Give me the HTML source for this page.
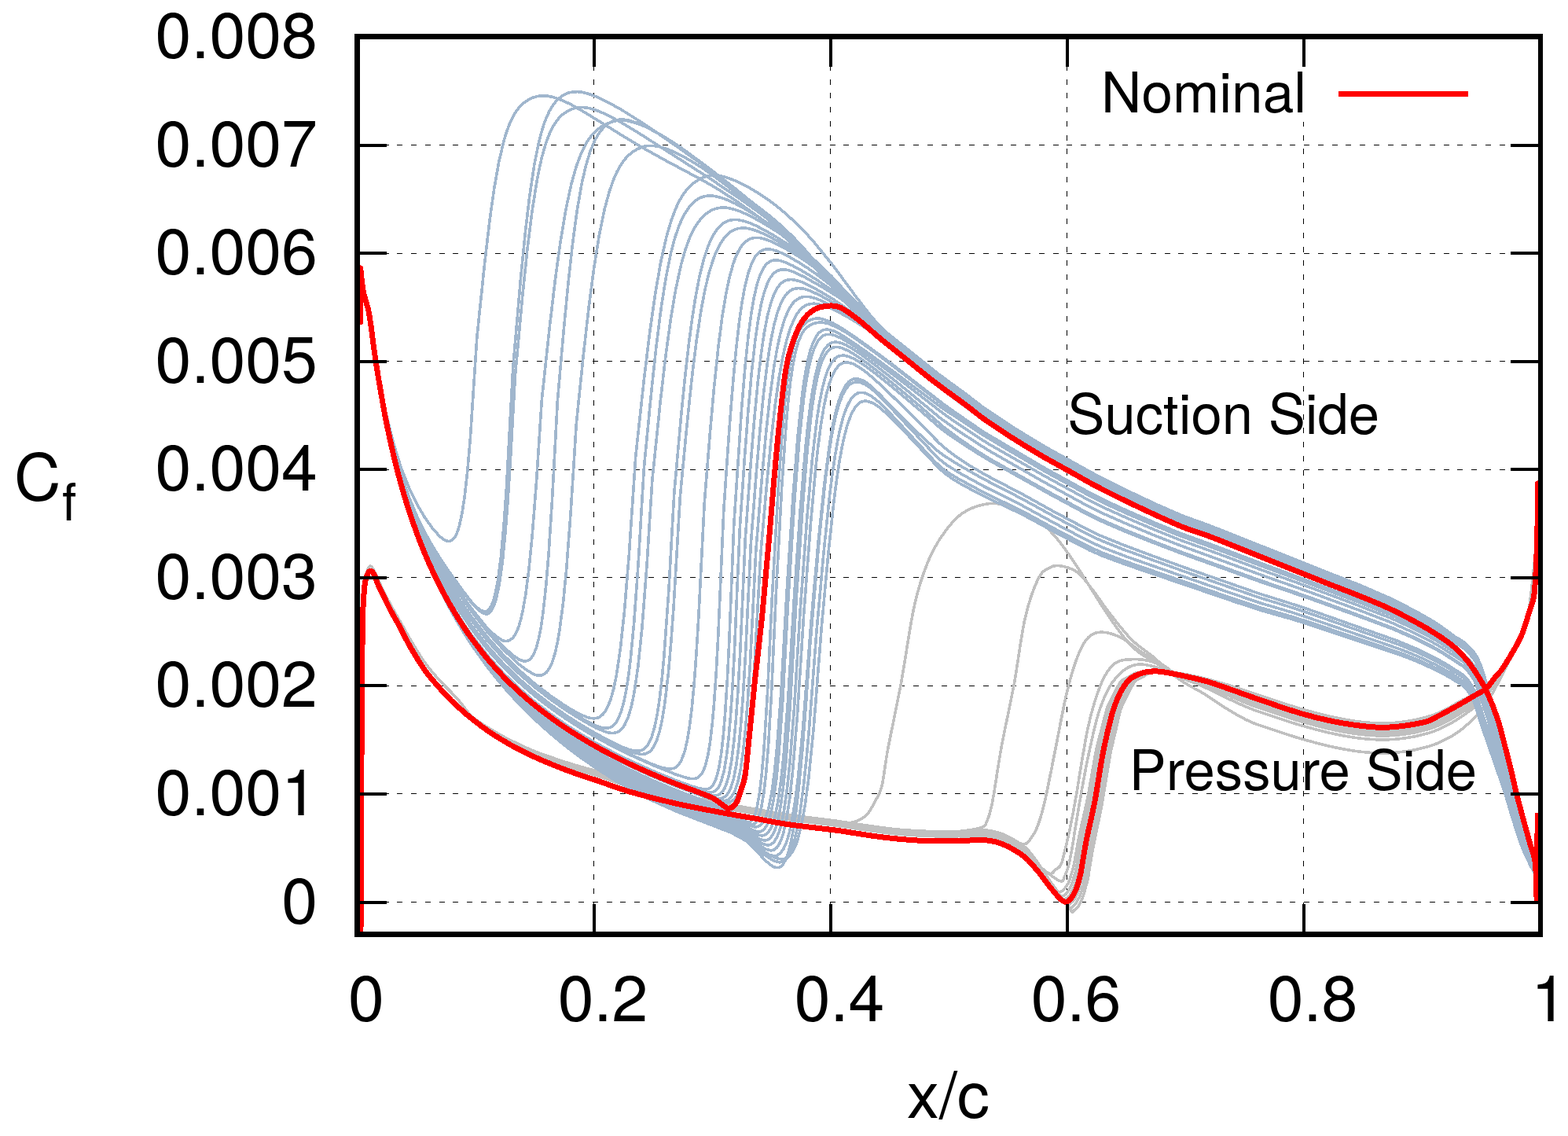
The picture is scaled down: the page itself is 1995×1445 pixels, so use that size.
<!DOCTYPE html>
<html><head><meta charset="utf-8"><title>Cf plot</title>
<style>html,body{margin:0;padding:0;background:#fff;overflow:hidden}
svg{display:block;font-family:"TeX Gyre Heros","Liberation Sans",Arial,sans-serif;fill:#000}
</style></head><body>
<svg xmlns="http://www.w3.org/2000/svg" width="1995" height="1445" viewBox="0 0 1995 1445">
<rect width="1995" height="1445" fill="#fff"/>
<g stroke="#000" stroke-width="1" stroke-dasharray="7 10.75" fill="none" shape-rendering="crispEdges">
<path d="M755.5,47.25V1185"/>
<path d="M1056.5,47.25V1185"/>
<path d="M1357.5,47.25V1185"/>
<path d="M1658.5,47.25V1185"/>
<path d="M452.2,1147.5H1957"/>
<path d="M452.2,1009.5H1957"/>
<path d="M452.2,872.5H1957"/>
<path d="M452.2,734.5H1957"/>
<path d="M452.2,597.5H1957"/>
<path d="M452.2,459.5H1957"/>
<path d="M452.2,322.5H1957"/>
<path d="M452.2,184.5H1957"/>
</g>
<g fill="none" stroke-linejoin="round" stroke-linecap="round" shape-rendering="crispEdges">
<path d="M459.0,1185.0 C459.1,1174.2 459.2,1150.8 459.3,1120.0 C459.4,1089.2 459.6,1040.0 459.8,1000.0 C460.0,960.0 460.3,913.3 460.5,880.0 C460.7,846.7 460.9,820.0 461.2,800.0 C461.5,780.0 461.9,770.5 462.5,760.0 C463.1,749.5 463.6,743.0 464.5,737.0 C465.4,731.0 466.8,726.8 468.0,724.0 C469.2,721.2 470.2,719.7 471.5,720.0 C472.8,720.3 474.4,723.2 476.0,726.0 C477.6,728.8 479.0,732.7 481.0,737.0 C483.0,741.3 485.2,746.3 488.0,752.0 C490.8,757.7 494.3,764.3 498.0,771.0 C501.7,777.7 505.8,784.7 510.0,792.0 C514.2,799.3 518.0,806.7 523.0,815.0 C528.0,823.3 534.3,834.0 540.0,842.0 C545.7,850.0 550.0,855.2 557.0,863.0 C564.0,870.8 574.8,881.0 582.0,889.0 C589.2,897.0 593.7,904.9 600.0,910.9 C606.3,916.9 613.3,920.7 620.0,925.0 C626.7,929.3 633.3,933.1 640.0,936.7 C646.7,940.4 653.3,943.5 660.0,946.6 C666.7,949.8 673.3,952.9 680.0,955.6 C686.7,958.3 693.3,960.5 700.0,962.8 C706.7,965.2 713.3,967.5 720.0,969.6 C726.7,971.8 733.3,973.8 740.0,975.7 C746.7,977.6 753.3,979.0 760.0,981.0 C766.7,983.0 773.3,985.6 780.0,987.8 C786.7,990.1 793.3,992.7 800.0,994.7 C806.7,996.7 813.3,998.2 820.0,999.9 C826.7,1001.6 833.3,1003.3 840.0,1005.0 C846.7,1006.6 853.3,1008.5 860.0,1010.0 C866.7,1011.6 873.3,1012.8 880.0,1014.1 C886.7,1015.4 893.3,1016.7 900.0,1018.0 C906.7,1019.3 913.3,1020.7 920.0,1022.0 C926.7,1023.2 933.3,1024.3 940.0,1025.5 C946.7,1026.7 953.3,1027.8 960.0,1029.0 C966.7,1030.2 973.3,1031.4 980.0,1032.6 C986.7,1033.8 993.3,1035.2 1000.0,1036.2 C1006.7,1037.2 1013.3,1037.9 1020.0,1038.7 C1026.7,1039.6 1033.3,1040.4 1040.0,1041.2 C1046.7,1042.0 1053.3,1042.8 1060.0,1043.7 C1066.7,1044.6 1074.4,1046.7 1080.0,1046.6 C1085.6,1046.5 1089.5,1044.9 1093.5,1043.0 C1097.5,1041.1 1100.8,1038.8 1104.0,1035.0 C1107.2,1031.2 1110.0,1025.8 1113.0,1020.0 C1116.0,1014.2 1119.2,1011.3 1122.0,1000.0 C1124.8,988.7 1125.7,974.0 1129.8,952.2 C1133.9,930.4 1140.9,899.2 1146.4,869.2 C1151.9,839.2 1157.5,797.7 1163.0,772.3 C1168.5,746.9 1173.7,732.1 1179.7,716.9 C1185.7,701.7 1191.6,691.5 1199.0,680.9 C1206.4,670.3 1214.3,659.9 1224.0,653.2 C1233.7,646.5 1246.6,642.2 1257.2,640.8 C1267.8,639.4 1276.5,641.0 1287.6,644.9 C1298.7,648.8 1313.9,657.4 1323.6,664.3 C1333.3,671.2 1338.4,677.6 1345.8,686.4 C1353.2,695.2 1361.0,706.7 1367.9,716.9 C1374.8,727.1 1379.9,735.9 1387.3,747.4 C1394.7,758.9 1403.4,773.6 1412.2,786.1 C1421.0,798.6 1430.7,812.9 1439.9,822.1 C1449.1,831.3 1457.6,835.4 1467.6,841.5 C1477.6,847.6 1489.6,854.4 1500.0,859.0 C1510.4,863.6 1520.0,865.3 1530.0,868.9 C1540.0,872.6 1550.0,877.0 1560.0,881.0 C1570.0,885.0 1580.0,889.4 1590.0,893.1 C1600.0,896.8 1610.0,900.0 1620.0,903.3 C1630.0,906.7 1640.0,910.1 1650.0,913.1 C1660.0,916.1 1670.0,918.9 1680.0,921.4 C1690.0,923.9 1700.0,926.2 1710.0,928.0 C1720.0,929.8 1730.0,931.4 1740.0,932.1 C1750.0,932.9 1760.0,933.2 1770.0,932.6 C1780.0,932.1 1790.0,930.9 1800.0,928.8 C1810.0,926.7 1820.0,924.2 1830.0,920.0 C1840.0,915.8 1850.0,909.7 1860.0,903.4 C1870.0,897.0 1880.0,892.9 1890.0,882.1 C1900.0,871.2 1913.0,849.2 1920.0,838.2 C1927.0,827.2 1928.0,825.2 1932.0,816.1 C1936.0,807.0 1940.0,807.0 1944.0,783.6 C1948.0,760.2 1953.8,699.9 1955.9,676.0 C1958.0,652.1 1956.5,646.0 1956.6,640.0" stroke="#c0c0c0" stroke-width="3.6"/>
<path d="M458.3,341.5 462.3,370.6 468.3,392.9 470.3,403.4 480.3,469.8 490.3,522.3 500.3,563.0 510.3,595.0 520.3,620.3 530.3,640.9 539.8,657.2 548.3,669.3 550.8,672.6 559.3,682.1 564.8,686.3 567.8,687.9 570.3,688.6 573.3,688.1 575.8,686.6 578.3,683.9 580.3,680.5 582.3,675.6 584.3,669.2 587.8,653.5 591.3,630.6 594.8,599.0 598.3,558.2 606.8,429.3 616.8,333.2 623.3,278.3 628.8,239.5 634.8,205.7 640.8,180.2 643.8,170.1 647.3,160.2 650.8,152.1 654.3,145.5 658.3,139.4 662.3,134.7 666.8,130.6 671.8,127.2 677.8,124.3 683.8,122.4 689.8,121.7 695.8,122.0 701.8,123.1 709.8,125.5 717.8,128.7 725.8,132.6 743.8,142.8 795.8,174.9 817.8,188.0 845.8,203.6 891.8,228.1 911.8,239.6 935.8,255.0 975.8,283.6 995.8,299.4 1011.8,314.2 1023.8,326.4 1045.8,350.5 1059.8,364.5 1079.8,386.4 1097.8,404.1 1111.8,416.7 1193.8,482.9 1227.8,507.4 1251.8,525.5 1281.8,545.3 1297.8,555.3 1331.8,575.5 1389.8,607.7 1431.8,628.7 1477.8,649.9 1507.8,662.5 1551.8,678.6 1727.8,747.6 1769.8,765.3 1799.8,780.6 1821.8,792.9 1831.8,799.2 1849.8,812.2 1859.8,818.3 1863.8,821.3 1871.8,829.1 1875.8,834.1 1877.8,837.2 1881.8,845.1 1887.8,861.9 1893.8,883.2 1901.8,918.2 1913.8,961.8 1925.8,1011.6 1943.8,1076.8 1949.8,1104.8 1951.8,1109.0 1953.8,1115.0" stroke="#a0b6cd" stroke-width="3.6"/>
<path d="M459.0,1185.0 C459.1,1174.2 459.2,1150.8 459.3,1120.0 C459.4,1089.2 459.6,1040.0 459.8,1000.0 C460.0,960.0 460.3,913.3 460.5,880.0 C460.7,846.7 460.9,820.0 461.2,800.0 C461.5,780.0 461.9,770.5 462.5,760.0 C463.1,749.5 463.6,743.0 464.5,737.0 C465.4,731.0 466.8,726.8 468.0,724.0 C469.2,721.2 470.2,719.7 471.5,720.0 C472.8,720.3 474.4,723.2 476.0,726.0 C477.6,728.8 479.0,732.7 481.0,737.0 C483.0,741.3 485.2,746.3 488.0,752.0 C490.8,757.7 494.3,764.3 498.0,771.0 C501.7,777.7 505.8,784.7 510.0,792.0 C514.2,799.3 518.0,806.7 523.0,815.0 C528.0,823.3 534.3,834.0 540.0,842.0 C545.7,850.0 550.0,855.2 557.0,863.0 C564.0,870.8 574.8,881.0 582.0,889.0 C589.2,897.0 593.7,904.9 600.0,910.9 C606.3,916.9 613.3,920.7 620.0,925.0 C626.7,929.3 633.3,933.1 640.0,936.7 C646.7,940.4 653.3,943.5 660.0,946.6 C666.7,949.8 673.3,952.9 680.0,955.6 C686.7,958.3 693.3,960.5 700.0,962.8 C706.7,965.2 713.3,967.5 720.0,969.6 C726.7,971.8 733.3,973.8 740.0,975.7 C746.7,977.6 753.3,979.0 760.0,981.0 C766.7,983.0 773.3,985.6 780.0,987.8 C786.7,990.1 793.3,992.7 800.0,994.7 C806.7,996.7 813.3,998.2 820.0,999.9 C826.7,1001.6 833.3,1003.3 840.0,1005.0 C846.7,1006.6 853.3,1008.5 860.0,1010.0 C866.7,1011.6 873.3,1012.8 880.0,1014.1 C886.7,1015.4 893.3,1016.7 900.0,1018.0 C906.7,1019.3 913.3,1020.7 920.0,1022.0 C926.7,1023.2 933.3,1024.3 940.0,1025.5 C946.7,1026.7 953.3,1027.8 960.0,1029.0 C966.7,1030.2 973.3,1031.4 980.0,1032.6 C986.7,1033.8 993.3,1035.2 1000.0,1036.2 C1006.7,1037.2 1013.3,1037.9 1020.0,1038.7 C1026.7,1039.6 1033.3,1040.4 1040.0,1041.2 C1046.7,1042.0 1053.3,1042.8 1060.0,1043.7 C1066.7,1044.6 1073.3,1045.6 1080.0,1046.6 C1086.7,1047.6 1093.3,1048.7 1100.0,1049.7 C1106.7,1050.6 1113.3,1051.6 1120.0,1052.4 C1126.7,1053.3 1133.3,1054.2 1140.0,1054.9 C1146.7,1055.5 1153.3,1056.0 1160.0,1056.4 C1166.7,1056.8 1173.3,1057.2 1180.0,1057.4 C1186.7,1057.7 1193.3,1057.9 1200.0,1057.9 C1206.7,1057.9 1211.9,1058.4 1220.0,1057.6 C1228.1,1056.7 1242.4,1054.9 1248.4,1052.6 C1254.4,1050.3 1253.6,1049.4 1256.0,1044.0 C1258.4,1038.6 1259.7,1035.3 1262.7,1020.0 C1265.7,1004.7 1269.2,977.3 1273.8,952.2 C1278.4,927.1 1285.3,896.9 1290.4,869.2 C1295.5,841.5 1299.2,808.2 1304.3,786.1 C1309.4,764.0 1315.8,746.9 1320.9,736.3 C1326.0,725.7 1330.1,725.2 1334.7,722.4 C1339.3,719.6 1342.5,718.8 1348.5,719.7 C1354.5,720.6 1363.8,722.9 1370.7,728.0 C1377.6,733.1 1383.1,741.3 1390.0,750.1 C1396.9,758.9 1403.9,770.0 1412.2,780.6 C1420.5,791.2 1430.7,804.6 1439.9,813.8 C1449.1,823.0 1457.6,827.5 1467.6,835.9 C1477.6,844.3 1489.6,856.4 1500.0,863.9 C1510.4,871.5 1520.0,875.2 1530.0,881.4 C1540.0,887.6 1550.0,895.0 1560.0,901.1 C1570.0,907.1 1580.0,913.2 1590.0,917.7 C1600.0,922.3 1610.0,924.9 1620.0,928.3 C1630.0,931.7 1640.0,935.1 1650.0,938.1 C1660.0,941.1 1670.0,943.9 1680.0,946.4 C1690.0,948.9 1700.0,951.2 1710.0,953.0 C1720.0,954.8 1730.0,956.4 1740.0,957.1 C1750.0,957.9 1760.0,958.2 1770.0,957.6 C1780.0,957.1 1790.0,955.9 1800.0,953.8 C1810.0,951.7 1820.0,949.4 1830.0,945.0 C1840.0,940.6 1850.0,935.6 1860.0,927.5 C1870.0,919.4 1880.0,911.0 1890.0,896.6 C1900.0,882.3 1913.0,854.7 1920.0,841.4 C1927.0,828.1 1928.0,826.3 1932.0,816.7 C1936.0,807.0 1940.0,807.0 1944.0,783.6 C1948.0,760.2 1953.8,699.9 1955.9,676.0 C1958.0,652.1 1956.5,646.0 1956.6,640.0" stroke="#c0c0c0" stroke-width="3.6"/>
<path d="M458.3,341.5 462.3,370.6 468.3,393.1 470.3,403.7 480.3,471.3 490.3,525.6 500.3,568.7 510.3,603.6 520.3,632.1 530.3,656.1 540.3,676.7 550.3,694.6 560.3,710.8 570.3,725.7 589.8,752.6 599.8,765.4 602.8,768.7 608.3,773.8 612.8,776.9 616.8,778.0 618.8,777.8 620.3,777.1 622.8,774.5 625.3,770.3 627.8,763.9 629.8,756.9 633.8,736.2 637.3,709.0 640.8,671.3 644.3,622.0 652.8,466.7 662.3,356.6 668.3,295.9 673.8,249.5 679.8,209.7 685.8,180.0 688.8,168.4 692.3,157.2 695.8,148.1 699.3,140.8 703.3,134.1 707.8,128.4 712.8,123.8 717.8,120.4 723.8,117.9 729.3,116.8 735.3,116.7 741.3,117.4 747.3,118.9 755.3,121.6 763.3,125.0 773.3,129.9 791.3,140.0 811.3,152.5 837.3,169.8 865.3,189.2 893.3,209.1 917.3,226.7 979.3,274.5 995.3,288.1 1009.3,301.7 1023.3,316.6 1045.3,342.3 1077.3,377.2 1095.3,395.1 1109.3,407.9 1193.3,475.2 1227.3,500.0 1251.3,518.4 1291.3,545.0 1329.3,568.0 1389.3,601.4 1429.3,621.8 1473.3,642.5 1507.3,657.1 1533.3,666.4 1555.3,674.8 1685.3,726.7 1729.3,743.9 1771.3,762.0 1801.3,777.6 1821.3,788.9 1833.3,796.7 1851.3,809.9 1859.3,814.6 1863.3,817.5 1873.3,827.2 1877.3,832.5 1879.3,835.8 1883.3,844.4 1889.3,862.5 1893.3,877.0 1901.3,912.8 1913.3,957.0 1927.3,1015.2 1943.3,1073.7 1949.3,1103.1 1953.3,1113.0 1955.3,1121.8" stroke="#a0b6cd" stroke-width="3.6"/>
<path d="M459.0,1185.0 C459.1,1174.2 459.2,1150.8 459.3,1120.0 C459.4,1089.2 459.6,1040.0 459.8,1000.0 C460.0,960.0 460.3,913.3 460.5,880.0 C460.7,846.7 460.9,820.0 461.2,800.0 C461.5,780.0 461.9,770.5 462.5,760.0 C463.1,749.5 463.6,743.0 464.5,737.0 C465.4,731.0 466.8,726.8 468.0,724.0 C469.2,721.2 470.2,719.7 471.5,720.0 C472.8,720.3 474.4,723.2 476.0,726.0 C477.6,728.8 479.0,732.7 481.0,737.0 C483.0,741.3 485.2,746.3 488.0,752.0 C490.8,757.7 494.3,764.3 498.0,771.0 C501.7,777.7 505.8,784.7 510.0,792.0 C514.2,799.3 518.0,806.7 523.0,815.0 C528.0,823.3 534.3,834.0 540.0,842.0 C545.7,850.0 550.0,855.2 557.0,863.0 C564.0,870.8 574.8,880.9 582.0,889.0 C589.2,897.1 593.7,905.2 600.0,911.3 C606.3,917.4 613.3,921.2 620.0,925.6 C626.7,930.0 633.3,933.9 640.0,937.5 C646.7,941.2 653.3,944.4 660.0,947.6 C666.7,950.8 673.3,954.0 680.0,956.8 C686.7,959.6 693.3,961.8 700.0,964.2 C706.7,966.6 713.3,969.0 720.0,971.2 C726.7,973.4 733.3,975.5 740.0,977.5 C746.7,979.5 753.3,980.9 760.0,983.0 C766.7,985.1 773.3,987.6 780.0,989.8 C786.7,992.1 793.3,994.7 800.0,996.7 C806.7,998.7 813.3,1000.2 820.0,1001.9 C826.7,1003.6 833.3,1005.3 840.0,1007.0 C846.7,1008.6 853.3,1010.5 860.0,1012.0 C866.7,1013.6 873.3,1014.8 880.0,1016.1 C886.7,1017.4 893.3,1018.7 900.0,1020.0 C906.7,1021.3 913.3,1022.7 920.0,1024.0 C926.7,1025.2 933.3,1026.3 940.0,1027.5 C946.7,1028.7 953.3,1029.8 960.0,1031.0 C966.7,1032.2 973.3,1033.4 980.0,1034.6 C986.7,1035.8 993.3,1037.2 1000.0,1038.2 C1006.7,1039.2 1013.3,1039.9 1020.0,1040.7 C1026.7,1041.6 1033.3,1042.4 1040.0,1043.2 C1046.7,1044.0 1053.3,1044.8 1060.0,1045.7 C1066.7,1046.6 1073.3,1047.6 1080.0,1048.6 C1086.7,1049.6 1093.3,1050.7 1100.0,1051.7 C1106.7,1052.6 1113.3,1053.6 1120.0,1054.4 C1126.7,1055.3 1133.3,1056.2 1140.0,1056.9 C1146.7,1057.5 1153.3,1058.0 1160.0,1058.4 C1166.7,1058.8 1173.3,1059.2 1180.0,1059.4 C1186.7,1059.7 1193.3,1059.9 1200.0,1059.9 C1206.7,1059.9 1213.3,1059.7 1220.0,1059.6 C1226.7,1059.4 1233.3,1058.8 1240.0,1058.8 C1246.7,1058.8 1253.3,1058.3 1260.0,1059.5 C1266.7,1060.7 1272.9,1063.6 1280.0,1066.0 C1287.1,1068.3 1297.3,1073.7 1302.6,1073.7 C1307.9,1073.7 1309.0,1070.0 1312.0,1066.0 C1315.0,1062.0 1317.7,1057.3 1320.6,1049.6 C1323.5,1041.9 1325.5,1036.2 1329.2,1020.0 C1332.9,1003.8 1338.4,975.0 1343.0,952.2 C1347.6,929.4 1352.3,902.4 1356.9,883.0 C1361.5,863.6 1366.1,847.9 1370.7,835.9 C1375.3,823.9 1379.4,816.3 1384.5,811.0 C1389.6,805.7 1394.3,804.1 1401.2,804.1 C1408.1,804.1 1417.3,806.6 1426.1,811.0 C1434.9,815.4 1444.6,824.4 1453.8,830.4 C1463.0,836.4 1473.7,842.0 1481.4,847.0 C1489.1,852.0 1491.9,856.2 1500.0,860.6 C1508.1,864.9 1520.0,868.5 1530.0,872.9 C1540.0,877.4 1550.0,882.8 1560.0,887.4 C1570.0,892.1 1580.0,897.0 1590.0,901.0 C1600.0,905.0 1610.0,908.0 1620.0,911.3 C1630.0,914.7 1640.0,918.1 1650.0,921.1 C1660.0,924.1 1670.0,926.9 1680.0,929.4 C1690.0,931.9 1700.0,934.2 1710.0,936.0 C1720.0,937.8 1730.0,939.4 1740.0,940.1 C1750.0,940.9 1760.0,941.2 1770.0,940.6 C1780.0,940.1 1790.0,938.9 1800.0,936.8 C1810.0,934.7 1820.0,932.3 1830.0,928.0 C1840.0,923.7 1850.0,918.0 1860.0,911.1 C1870.0,904.2 1880.0,898.7 1890.0,886.7 C1900.0,874.7 1913.0,851.0 1920.0,839.2 C1927.0,827.5 1928.0,825.6 1932.0,816.3 C1936.0,807.0 1940.0,807.0 1944.0,783.6 C1948.0,760.2 1953.8,699.9 1955.9,676.0 C1958.0,652.1 1956.5,646.0 1956.6,640.0" stroke="#c0c0c0" stroke-width="3.6"/>
<path d="M458.3,341.5 462.3,370.6 468.3,393.1 470.3,403.7 480.3,471.3 490.3,525.8 500.3,569.0 510.3,603.9 520.3,632.6 530.3,656.7 540.3,677.4 550.3,695.5 560.3,711.8 570.3,726.7 589.8,753.8 599.8,766.7 603.3,770.6 609.3,776.3 613.8,779.5 617.8,780.9 619.8,780.9 621.3,780.3 624.3,777.7 626.8,773.9 629.3,768.1 631.3,761.8 635.3,743.2 639.3,714.7 642.8,679.5 646.3,633.9 649.8,578.6 655.3,479.9 664.8,376.4 670.8,318.5 676.8,270.1 682.8,231.8 686.3,213.8 689.3,200.7 692.3,189.6 695.8,178.7 699.3,169.7 702.8,162.4 706.8,155.8 711.3,150.0 716.3,145.2 721.3,141.8 726.8,139.0 732.8,137.2 738.8,136.5 744.8,136.8 750.8,137.9 758.8,140.3 768.8,144.4 776.8,148.4 792.8,157.2 814.8,170.6 902.8,226.8 942.8,253.8 966.8,271.0 980.8,281.5 996.8,294.9 1010.8,308.3 1022.8,320.7 1044.8,345.6 1060.8,362.2 1078.8,382.1 1094.8,397.9 1110.8,412.5 1192.8,478.5 1226.8,503.2 1252.8,522.8 1294.8,550.4 1330.8,571.9 1390.8,605.2 1430.8,625.3 1474.8,645.8 1506.8,659.5 1550.8,675.6 1728.8,745.9 1770.8,763.8 1800.8,779.2 1820.8,790.4 1832.8,798.1 1850.8,811.2 1862.8,818.8 1872.8,828.4 1876.8,833.6 1878.8,836.9 1882.8,845.3 1888.8,863.0 1892.8,877.1 1902.8,920.3 1914.8,964.4 1926.8,1014.4 1942.8,1072.3 1948.8,1101.1 1950.8,1107.1 1952.8,1111.4 1954.8,1119.5" stroke="#a0b6cd" stroke-width="3.6"/>
<path d="M459.0,1185.0 C459.1,1174.2 459.2,1150.8 459.3,1120.0 C459.4,1089.2 459.6,1040.0 459.8,1000.0 C460.0,960.0 460.3,913.3 460.5,880.0 C460.7,846.7 460.9,820.0 461.2,800.0 C461.5,780.0 461.9,770.5 462.5,760.0 C463.1,749.5 463.6,743.0 464.5,737.0 C465.4,731.0 466.8,726.8 468.0,724.0 C469.2,721.2 470.2,719.7 471.5,720.0 C472.8,720.3 474.4,723.2 476.0,726.0 C477.6,728.8 479.0,732.7 481.0,737.0 C483.0,741.3 485.2,746.3 488.0,752.0 C490.8,757.7 494.3,764.3 498.0,771.0 C501.7,777.7 505.8,784.7 510.0,792.0 C514.2,799.3 518.0,806.7 523.0,815.0 C528.0,823.3 534.3,834.0 540.0,842.0 C545.7,850.0 550.0,855.2 557.0,863.0 C564.0,870.8 574.8,880.9 582.0,889.0 C589.2,897.1 593.7,905.5 600.0,911.7 C606.3,917.9 613.3,921.8 620.0,926.2 C626.7,930.6 633.3,934.6 640.0,938.3 C646.7,942.1 653.3,945.3 660.0,948.6 C666.7,951.9 673.3,955.2 680.0,958.0 C686.7,960.8 693.3,963.2 700.0,965.6 C706.7,968.1 713.3,970.5 720.0,972.8 C726.7,975.1 733.3,977.3 740.0,979.3 C746.7,981.3 753.3,982.9 760.0,985.0 C766.7,987.1 773.3,989.6 780.0,991.8 C786.7,994.1 793.3,996.7 800.0,998.7 C806.7,1000.7 813.3,1002.2 820.0,1003.9 C826.7,1005.6 833.3,1007.3 840.0,1009.0 C846.7,1010.6 853.3,1012.5 860.0,1014.0 C866.7,1015.6 873.3,1016.8 880.0,1018.1 C886.7,1019.4 893.3,1020.7 900.0,1022.0 C906.7,1023.3 913.3,1024.7 920.0,1026.0 C926.7,1027.2 933.3,1028.3 940.0,1029.5 C946.7,1030.7 953.3,1031.8 960.0,1033.0 C966.7,1034.2 973.3,1035.4 980.0,1036.6 C986.7,1037.8 993.3,1039.2 1000.0,1040.2 C1006.7,1041.2 1013.3,1041.9 1020.0,1042.7 C1026.7,1043.6 1033.3,1044.4 1040.0,1045.2 C1046.7,1046.0 1053.3,1046.8 1060.0,1047.7 C1066.7,1048.6 1073.3,1049.6 1080.0,1050.6 C1086.7,1051.6 1093.3,1052.7 1100.0,1053.7 C1106.7,1054.6 1113.3,1055.6 1120.0,1056.4 C1126.7,1057.3 1133.3,1058.2 1140.0,1058.9 C1146.7,1059.5 1153.3,1060.0 1160.0,1060.4 C1166.7,1060.8 1173.3,1061.2 1180.0,1061.4 C1186.7,1061.7 1193.3,1061.9 1200.0,1061.9 C1206.7,1061.9 1213.3,1061.7 1220.0,1061.6 C1226.7,1061.4 1233.3,1060.8 1240.0,1060.8 C1246.7,1060.8 1253.3,1060.3 1260.0,1061.5 C1266.7,1062.7 1273.3,1064.9 1280.0,1068.0 C1286.7,1071.0 1293.3,1074.5 1300.0,1079.8 C1306.7,1085.1 1314.1,1094.4 1320.0,1099.6 C1325.9,1104.9 1331.8,1110.2 1335.6,1111.3 C1339.4,1112.4 1340.5,1108.3 1343.0,1106.0 C1345.5,1103.7 1347.9,1105.4 1350.7,1097.7 C1353.5,1090.0 1357.1,1073.0 1360.0,1060.0 C1362.9,1047.0 1363.8,1042.6 1367.9,1020.0 C1372.0,997.4 1379.0,949.6 1384.5,924.5 C1390.0,899.4 1395.7,882.6 1401.2,869.2 C1406.8,855.8 1411.3,849.4 1417.8,844.3 C1424.2,839.2 1431.7,839.1 1439.9,838.7 C1448.1,838.3 1457.0,838.7 1467.0,842.0 C1477.0,845.3 1489.5,854.3 1500.0,858.6 C1510.5,862.9 1520.0,864.5 1530.0,867.9 C1540.0,871.4 1550.0,875.5 1560.0,879.4 C1570.0,883.3 1580.0,887.5 1590.0,891.1 C1600.0,894.8 1610.0,898.0 1620.0,901.3 C1630.0,904.7 1640.0,908.1 1650.0,911.1 C1660.0,914.1 1670.0,916.9 1680.0,919.4 C1690.0,921.9 1700.0,924.2 1710.0,926.0 C1720.0,927.8 1730.0,929.4 1740.0,930.1 C1750.0,930.9 1760.0,931.2 1770.0,930.6 C1780.0,930.1 1790.0,928.9 1800.0,926.8 C1810.0,924.7 1820.0,922.2 1830.0,918.0 C1840.0,913.8 1850.0,907.6 1860.0,901.4 C1870.0,895.2 1880.0,891.5 1890.0,880.9 C1900.0,870.3 1913.0,848.8 1920.0,838.0 C1927.0,827.2 1928.0,825.1 1932.0,816.1 C1936.0,807.0 1940.0,806.9 1944.0,783.6 C1948.0,760.3 1953.8,699.9 1955.9,676.0 C1958.0,652.1 1956.5,646.0 1956.6,640.0" stroke="#c0c0c0" stroke-width="3.6"/>
<path d="M458.3,341.5 462.3,370.6 468.3,393.2 470.3,403.8 480.3,471.6 490.3,526.4 500.3,570.1 510.3,605.6 520.3,634.9 530.3,659.6 540.3,680.9 550.3,699.6 560.3,716.5 570.3,732.0 580.3,746.6 599.8,773.8 616.3,794.5 620.3,799.2 627.3,805.9 632.8,810.5 638.3,814.1 640.3,815.0 643.3,815.5 645.8,815.3 648.3,814.5 652.3,811.6 656.3,805.8 659.8,797.6 662.8,787.3 665.8,773.6 668.8,756.0 672.8,725.3 676.8,685.5 682.3,615.7 689.3,509.0 698.8,420.2 706.3,356.6 712.8,309.1 719.8,267.2 726.8,234.5 733.3,211.5 739.8,194.2 743.3,186.9 746.8,180.7 750.8,174.8 755.3,169.4 759.8,165.1 765.3,161.1 770.8,158.0 778.3,155.1 783.3,153.8 789.3,153.1 795.3,153.3 801.3,154.3 811.3,157.2 821.3,161.3 833.3,167.3 847.3,175.3 861.3,184.3 875.3,194.2 891.3,206.3 909.3,220.6 933.3,240.4 969.3,271.1 995.3,294.4 1015.3,315.0 1043.3,346.6 1059.3,362.9 1079.3,384.8 1095.3,400.6 1109.3,413.5 1193.3,481.3 1229.3,507.4 1251.3,524.0 1289.3,549.0 1329.3,573.1 1389.3,606.4 1429.3,626.5 1471.3,646.1 1507.3,661.4 1551.3,677.5 1727.3,746.7 1771.3,765.4 1801.3,780.7 1821.3,792.0 1831.3,798.2 1849.3,811.3 1859.3,817.4 1863.3,820.3 1871.3,828.0 1877.3,835.7 1881.3,843.2 1887.3,859.6 1893.3,880.5 1901.3,915.6 1913.3,959.4 1927.3,1017.0 1943.3,1074.6 1949.3,1103.2 1953.3,1113.0 1955.3,1121.9" stroke="#a0b6cd" stroke-width="3.6"/>
<path d="M459.0,1185.0 C459.1,1174.2 459.2,1150.8 459.3,1120.0 C459.4,1089.2 459.6,1040.0 459.8,1000.0 C460.0,960.0 460.3,913.3 460.5,880.0 C460.7,846.7 460.9,820.0 461.2,800.0 C461.5,780.0 461.9,770.5 462.5,760.0 C463.1,749.5 463.6,743.0 464.5,737.0 C465.4,731.0 466.8,726.8 468.0,724.0 C469.2,721.2 470.2,719.7 471.5,720.0 C472.8,720.3 474.4,723.2 476.0,726.0 C477.6,728.8 479.0,732.7 481.0,737.0 C483.0,741.3 485.2,746.3 488.0,752.0 C490.8,757.7 494.3,764.3 498.0,771.0 C501.7,777.7 505.8,784.7 510.0,792.0 C514.2,799.3 518.0,806.7 523.0,815.0 C528.0,823.3 534.3,834.0 540.0,842.0 C545.7,850.0 550.0,855.2 557.0,863.0 C564.0,870.8 574.8,880.9 582.0,889.0 C589.2,897.1 593.7,905.5 600.0,911.7 C606.3,917.9 613.3,921.8 620.0,926.2 C626.7,930.6 633.3,934.6 640.0,938.3 C646.7,942.1 653.3,945.3 660.0,948.6 C666.7,951.9 673.3,955.2 680.0,958.0 C686.7,960.8 693.3,963.2 700.0,965.6 C706.7,968.1 713.3,970.5 720.0,972.8 C726.7,975.1 733.3,977.3 740.0,979.3 C746.7,981.3 753.3,982.9 760.0,985.0 C766.7,987.1 773.3,989.6 780.0,991.8 C786.7,994.1 793.3,996.7 800.0,998.7 C806.7,1000.7 813.3,1002.2 820.0,1003.9 C826.7,1005.6 833.3,1007.3 840.0,1009.0 C846.7,1010.6 853.3,1012.5 860.0,1014.0 C866.7,1015.6 873.3,1016.8 880.0,1018.1 C886.7,1019.4 893.3,1020.7 900.0,1022.0 C906.7,1023.3 913.3,1024.7 920.0,1026.0 C926.7,1027.2 933.3,1028.3 940.0,1029.5 C946.7,1030.7 953.3,1031.8 960.0,1033.0 C966.7,1034.2 973.3,1035.4 980.0,1036.6 C986.7,1037.8 993.3,1039.2 1000.0,1040.2 C1006.7,1041.2 1013.3,1041.9 1020.0,1042.7 C1026.7,1043.6 1033.3,1044.4 1040.0,1045.2 C1046.7,1046.0 1053.3,1046.8 1060.0,1047.7 C1066.7,1048.6 1073.3,1049.6 1080.0,1050.6 C1086.7,1051.6 1093.3,1052.7 1100.0,1053.7 C1106.7,1054.6 1113.3,1055.6 1120.0,1056.4 C1126.7,1057.3 1133.3,1058.2 1140.0,1058.9 C1146.7,1059.5 1153.3,1060.0 1160.0,1060.4 C1166.7,1060.8 1173.3,1061.2 1180.0,1061.4 C1186.7,1061.7 1193.3,1061.9 1200.0,1061.9 C1206.7,1061.9 1213.3,1061.7 1220.0,1061.6 C1226.7,1061.4 1233.3,1060.8 1240.0,1060.8 C1246.7,1060.8 1253.3,1060.3 1260.0,1061.5 C1266.7,1062.7 1273.3,1064.9 1280.0,1068.0 C1286.7,1071.0 1293.3,1074.5 1300.0,1079.8 C1306.7,1085.1 1312.0,1092.9 1320.0,1099.6 C1328.0,1106.4 1341.9,1117.9 1347.7,1120.3 C1353.5,1122.7 1352.6,1119.0 1355.0,1114.0 C1357.4,1109.0 1359.2,1104.0 1362.0,1090.0 C1364.8,1076.0 1368.2,1051.7 1372.0,1030.0 C1375.8,1008.3 1380.3,981.7 1385.0,960.0 C1389.7,938.3 1394.2,916.3 1400.0,900.0 C1405.8,883.7 1411.7,871.2 1420.0,862.0 C1428.3,852.8 1436.7,845.7 1450.0,845.0 C1463.3,844.3 1486.7,854.3 1500.0,857.8 C1513.3,861.3 1520.0,862.9 1530.0,865.9 C1540.0,869.0 1550.0,872.7 1560.0,876.2 C1570.0,879.7 1580.0,883.7 1590.0,887.2 C1600.0,890.7 1610.0,894.0 1620.0,897.3 C1630.0,900.6 1640.0,904.1 1650.0,907.1 C1660.0,910.1 1670.0,912.9 1680.0,915.4 C1690.0,917.9 1700.0,920.2 1710.0,922.0 C1720.0,923.8 1730.0,925.4 1740.0,926.1 C1750.0,926.9 1760.0,927.2 1770.0,926.6 C1780.0,926.1 1790.0,924.9 1800.0,922.8 C1810.0,920.7 1820.0,918.2 1830.0,914.0 C1840.0,909.8 1850.0,903.5 1860.0,897.6 C1870.0,891.7 1880.0,888.6 1890.0,878.6 C1900.0,868.5 1913.0,847.9 1920.0,837.5 C1927.0,827.0 1928.0,825.0 1932.0,816.0 C1936.0,807.0 1940.0,806.9 1944.0,783.6 C1948.0,760.3 1953.8,699.9 1955.9,676.0 C1958.0,652.1 1956.5,646.0 1956.6,640.0" stroke="#c0c0c0" stroke-width="3.6"/>
<path d="M458.3,341.5 462.3,370.6 468.3,393.2 470.3,403.8 480.3,471.6 490.3,526.4 500.3,570.1 510.3,605.6 520.3,635.0 528.3,654.9 540.3,681.1 550.3,699.8 560.3,716.7 570.3,732.2 590.3,761.0 600.3,774.9 620.3,800.6 640.3,822.6 651.8,832.8 660.3,838.9 665.8,840.8 668.3,841.0 670.8,840.6 673.3,839.4 675.3,837.7 678.8,832.8 682.3,824.2 685.3,813.1 688.3,797.7 690.8,780.6 694.8,744.0 698.3,701.2 702.8,631.1 709.3,510.7 716.8,424.6 722.8,361.6 728.8,307.7 734.3,267.4 740.3,233.0 745.3,211.2 750.8,192.9 756.8,178.6 759.8,173.1 763.3,167.8 767.3,163.0 771.3,159.2 775.8,156.0 779.8,154.0 784.8,152.5 789.8,152.0 793.8,152.1 799.8,153.1 809.8,156.1 821.8,161.4 835.8,168.8 851.8,178.6 871.8,192.0 893.8,207.8 913.8,223.0 937.8,241.8 977.8,274.6 989.8,285.1 999.8,294.5 1019.8,315.6 1043.8,343.2 1059.8,360.0 1077.8,379.9 1093.8,395.9 1109.8,410.6 1191.8,476.5 1229.8,504.2 1251.8,521.0 1291.8,547.5 1331.8,571.5 1389.8,603.7 1429.8,623.9 1469.8,642.7 1507.8,659.0 1535.8,669.0 1563.8,679.9 1729.8,745.6 1769.8,762.6 1801.8,779.1 1821.8,790.4 1831.8,796.8 1849.8,810.0 1859.8,816.1 1863.8,819.0 1871.8,826.7 1877.8,834.6 1881.8,842.2 1887.8,859.0 1893.8,880.4 1901.8,915.9 1913.8,959.9 1925.8,1010.1 1943.8,1076.1 1949.8,1104.8 1951.8,1109.0 1953.8,1115.0" stroke="#a0b6cd" stroke-width="3.6"/>
<path d="M459.0,1185.0 C459.1,1174.2 459.2,1150.8 459.3,1120.0 C459.4,1089.2 459.6,1040.0 459.8,1000.0 C460.0,960.0 460.3,913.3 460.5,880.0 C460.7,846.7 460.9,820.0 461.2,800.0 C461.5,780.0 461.9,770.5 462.5,760.0 C463.1,749.5 463.6,743.0 464.5,737.0 C465.4,731.0 466.8,726.8 468.0,724.0 C469.2,721.2 470.2,719.7 471.5,720.0 C472.8,720.3 474.4,723.2 476.0,726.0 C477.6,728.8 479.0,732.7 481.0,737.0 C483.0,741.3 485.2,746.3 488.0,752.0 C490.8,757.7 494.3,764.3 498.0,771.0 C501.7,777.7 505.8,784.7 510.0,792.0 C514.2,799.3 518.0,806.7 523.0,815.0 C528.0,823.3 534.3,834.0 540.0,842.0 C545.7,850.0 550.0,855.2 557.0,863.0 C564.0,870.8 574.8,880.8 582.0,889.0 C589.2,897.2 593.7,905.8 600.0,912.1 C606.3,918.4 613.3,922.3 620.0,926.8 C626.7,931.3 633.3,935.3 640.0,939.1 C646.7,943.0 653.3,946.3 660.0,949.6 C666.7,953.0 673.3,956.3 680.0,959.2 C686.7,962.1 693.3,964.5 700.0,967.0 C706.7,969.6 713.3,972.1 720.0,974.4 C726.7,976.8 733.3,979.0 740.0,981.1 C746.7,983.2 753.3,984.9 760.0,987.0 C766.7,989.1 773.3,991.6 780.0,993.8 C786.7,996.1 793.3,998.7 800.0,1000.7 C806.7,1002.7 813.3,1004.2 820.0,1005.9 C826.7,1007.6 833.3,1009.3 840.0,1011.0 C846.7,1012.6 853.3,1014.5 860.0,1016.0 C866.7,1017.6 873.3,1018.8 880.0,1020.1 C886.7,1021.4 893.3,1022.7 900.0,1024.0 C906.7,1025.3 913.3,1026.7 920.0,1028.0 C926.7,1029.2 933.3,1030.3 940.0,1031.5 C946.7,1032.7 953.3,1033.8 960.0,1035.0 C966.7,1036.2 973.3,1037.4 980.0,1038.6 C986.7,1039.8 993.3,1041.2 1000.0,1042.2 C1006.7,1043.2 1013.3,1043.9 1020.0,1044.7 C1026.7,1045.6 1033.3,1046.4 1040.0,1047.2 C1046.7,1048.0 1053.3,1048.8 1060.0,1049.7 C1066.7,1050.6 1073.3,1051.6 1080.0,1052.6 C1086.7,1053.6 1093.3,1054.7 1100.0,1055.7 C1106.7,1056.6 1113.3,1057.6 1120.0,1058.4 C1126.7,1059.3 1133.3,1060.2 1140.0,1060.9 C1146.7,1061.5 1153.3,1062.0 1160.0,1062.4 C1166.7,1062.8 1173.3,1063.2 1180.0,1063.4 C1186.7,1063.7 1193.3,1063.9 1200.0,1063.9 C1206.7,1063.9 1213.3,1064.9 1220.0,1063.6 C1226.7,1062.2 1235.7,1057.1 1240.0,1055.8 C1244.3,1054.5 1244.0,1055.6 1246.0,1055.6 C1248.0,1055.7 1250.0,1055.9 1252.0,1056.0 C1254.0,1056.1 1256.0,1056.1 1258.0,1056.4 C1260.0,1056.6 1262.0,1057.0 1264.0,1057.5 C1266.0,1057.9 1268.0,1058.6 1270.0,1059.2 C1272.0,1059.7 1274.0,1060.2 1276.0,1061.0 C1278.0,1061.7 1280.0,1063.0 1282.0,1064.0 C1284.0,1065.0 1286.0,1065.8 1288.0,1067.0 C1290.0,1068.1 1292.0,1069.3 1294.0,1070.6 C1296.0,1071.9 1298.0,1073.4 1300.0,1074.8 C1302.0,1076.2 1304.0,1077.3 1306.0,1079.1 C1308.0,1081.0 1310.0,1083.5 1312.0,1086.0 C1314.0,1088.5 1316.0,1091.2 1318.0,1093.9 C1320.0,1096.7 1322.0,1099.6 1324.0,1102.5 C1326.0,1105.5 1328.0,1108.6 1330.0,1111.6 C1332.0,1114.7 1334.7,1118.7 1336.0,1120.7 C1337.3,1122.7 1337.3,1122.5 1338.0,1123.5 C1338.7,1124.4 1339.3,1125.3 1340.0,1126.2 C1340.7,1127.2 1341.3,1128.1 1342.0,1129.0 C1342.7,1130.0 1343.3,1130.9 1344.0,1131.8 C1344.7,1132.7 1345.3,1134.1 1346.0,1134.6 C1346.7,1135.1 1347.3,1135.0 1348.0,1134.9 C1348.7,1134.8 1349.3,1134.2 1350.0,1133.8 C1350.7,1133.5 1351.3,1133.2 1352.0,1132.8 C1352.7,1132.4 1353.3,1132.1 1354.0,1131.4 C1354.7,1130.6 1355.3,1129.3 1356.0,1128.3 C1356.7,1127.3 1357.3,1126.3 1358.0,1125.2 C1358.7,1124.1 1359.3,1123.3 1360.0,1121.6 C1360.7,1120.0 1361.3,1117.4 1362.0,1115.4 C1362.7,1113.3 1363.3,1111.3 1364.0,1109.1 C1364.7,1106.9 1365.3,1105.1 1366.0,1102.1 C1366.7,1099.1 1367.3,1094.7 1368.0,1091.0 C1368.7,1087.3 1369.3,1083.6 1370.0,1079.9 C1370.7,1076.2 1371.3,1072.3 1372.0,1068.8 C1372.7,1065.3 1373.3,1061.9 1374.0,1058.8 C1374.7,1055.6 1375.3,1052.9 1376.0,1049.9 C1376.7,1047.0 1377.3,1044.0 1378.0,1041.1 C1378.7,1038.1 1379.3,1035.2 1380.0,1032.2 C1380.7,1029.3 1381.3,1026.3 1382.0,1023.4 C1382.7,1020.4 1383.3,1017.7 1384.0,1014.2 C1384.7,1010.8 1385.3,1006.7 1386.0,1002.9 C1386.7,999.2 1387.3,995.4 1388.0,991.6 C1388.7,987.9 1389.3,984.1 1390.0,980.3 C1390.7,976.5 1391.3,972.8 1392.0,969.0 C1392.7,965.2 1393.3,961.1 1394.0,957.7 C1394.7,954.3 1395.3,951.2 1396.0,948.4 C1396.7,945.6 1397.3,943.3 1398.0,940.7 C1398.7,938.2 1399.3,935.6 1400.0,933.1 C1400.7,930.5 1401.3,928.0 1402.0,925.4 C1402.7,922.9 1403.3,920.3 1404.0,917.8 C1404.7,915.2 1405.3,912.7 1406.0,910.1 C1406.7,907.5 1407.3,904.5 1408.0,902.2 C1408.7,900.0 1409.3,898.3 1410.0,896.7 C1410.7,895.1 1411.3,894.1 1412.0,892.8 C1412.7,891.5 1413.3,890.3 1414.0,889.0 C1414.7,887.7 1415.3,886.4 1416.0,885.1 C1416.7,883.8 1417.3,882.6 1418.0,881.3 C1418.7,880.0 1418.7,879.8 1420.0,877.4 C1421.3,875.0 1424.0,869.0 1426.0,866.7 C1428.0,864.3 1430.0,864.4 1432.0,863.3 C1434.0,862.1 1436.0,861.0 1438.0,859.9 C1440.0,858.7 1442.0,857.2 1444.0,856.5 C1446.0,855.7 1448.0,855.7 1450.0,855.5 C1452.0,855.2 1454.0,855.0 1456.0,854.8 C1458.0,854.6 1460.0,854.2 1462.0,854.2 C1464.0,854.2 1466.0,854.4 1468.0,854.7 C1470.0,854.9 1468.7,855.4 1474.0,855.7 C1479.3,855.9 1490.7,855.3 1500.0,856.4 C1509.3,857.5 1520.0,860.1 1530.0,862.4 C1540.0,864.8 1550.0,867.6 1560.0,870.6 C1570.0,873.6 1580.0,877.0 1590.0,880.3 C1600.0,883.6 1610.0,887.0 1620.0,890.3 C1630.0,893.6 1640.0,897.1 1650.0,900.1 C1660.0,903.1 1670.0,905.9 1680.0,908.4 C1690.0,910.9 1700.0,913.2 1710.0,915.0 C1720.0,916.8 1730.0,918.4 1740.0,919.1 C1750.0,919.9 1760.0,920.2 1770.0,919.6 C1780.0,919.1 1790.0,917.9 1800.0,915.8 C1810.0,913.7 1820.0,911.2 1830.0,907.0 C1840.0,902.8 1850.0,896.2 1860.0,890.8 C1870.0,885.4 1880.0,883.5 1890.0,874.5 C1900.0,865.4 1913.0,846.4 1920.0,836.6 C1927.0,826.8 1928.0,824.7 1932.0,815.8 C1936.0,807.0 1940.0,806.9 1944.0,783.6 C1948.0,760.3 1953.8,699.9 1955.9,676.0 C1958.0,652.1 1956.5,646.0 1956.6,640.0" stroke="#c0c0c0" stroke-width="3.6"/>
<path d="M458.3,341.5 462.3,370.6 468.3,393.2 470.3,403.8 480.3,471.8 490.3,526.8 500.3,570.7 510.3,606.6 520.3,636.2 530.3,661.4 540.3,683.1 550.3,702.2 560.3,719.4 580.3,750.0 600.3,778.2 620.3,804.0 640.3,826.1 660.3,844.9 670.3,852.4 678.3,857.3 681.3,858.5 684.8,859.1 687.8,859.1 690.3,858.5 692.8,857.3 695.3,855.2 699.3,849.7 702.8,841.9 706.3,830.4 709.3,816.9 712.3,799.4 716.8,764.2 720.8,722.6 726.3,649.5 733.3,538.8 742.3,451.5 749.3,389.6 755.8,340.2 762.3,299.6 769.3,265.6 775.3,243.5 781.3,226.7 784.8,218.9 788.3,212.4 791.8,206.9 795.8,201.7 800.3,197.1 805.3,193.1 810.3,190.0 815.8,187.5 820.3,186.1 825.8,185.4 831.8,185.5 837.8,186.4 847.8,189.2 857.8,193.3 869.8,199.3 883.8,207.4 895.8,215.1 909.8,225.0 923.8,235.5 943.8,251.3 981.8,283.1 1001.8,301.6 1021.8,322.6 1045.8,351.0 1059.8,366.1 1075.8,384.4 1093.8,402.5 1109.8,417.3 1135.8,438.6 1193.8,485.3 1229.8,511.3 1251.8,527.7 1291.8,553.7 1329.8,576.4 1389.8,609.7 1425.8,627.7 1469.8,648.1 1507.8,664.2 1553.8,681.0 1727.8,749.1 1771.8,767.6 1801.8,782.9 1821.8,794.1 1831.8,800.3 1849.8,813.3 1859.8,819.5 1863.8,822.4 1871.8,830.3 1875.8,835.4 1877.8,838.5 1881.8,846.6 1887.8,863.4 1893.8,884.6 1901.8,919.3 1913.8,962.7 1927.8,1020.0 1943.8,1077.2 1949.8,1104.8 1951.8,1109.0 1953.8,1115.0" stroke="#a0b6cd" stroke-width="3.6"/>
<path d="M459.0,1185.0 C459.1,1174.2 459.2,1150.8 459.3,1120.0 C459.4,1089.2 459.6,1040.0 459.8,1000.0 C460.0,960.0 460.3,913.3 460.5,880.0 C460.7,846.7 460.9,820.0 461.2,800.0 C461.5,780.0 461.9,770.5 462.5,760.0 C463.1,749.5 463.6,743.0 464.5,737.0 C465.4,731.0 466.8,726.8 468.0,724.0 C469.2,721.2 470.2,719.7 471.5,720.0 C472.8,720.3 474.4,723.2 476.0,726.0 C477.6,728.8 479.0,732.7 481.0,737.0 C483.0,741.3 485.2,746.3 488.0,752.0 C490.8,757.7 494.3,764.3 498.0,771.0 C501.7,777.7 505.8,784.7 510.0,792.0 C514.2,799.3 518.0,806.7 523.0,815.0 C528.0,823.3 534.3,834.0 540.0,842.0 C545.7,850.0 550.0,855.2 557.0,863.0 C564.0,870.8 574.8,880.8 582.0,889.0 C589.2,897.2 593.7,905.8 600.0,912.1 C606.3,918.4 613.3,922.3 620.0,926.8 C626.7,931.3 633.3,935.3 640.0,939.1 C646.7,943.0 653.3,946.3 660.0,949.6 C666.7,953.0 673.3,956.3 680.0,959.2 C686.7,962.1 693.3,964.5 700.0,967.0 C706.7,969.6 713.3,972.1 720.0,974.4 C726.7,976.8 733.3,979.0 740.0,981.1 C746.7,983.2 753.3,984.9 760.0,987.0 C766.7,989.1 773.3,991.6 780.0,993.8 C786.7,996.1 793.3,998.7 800.0,1000.7 C806.7,1002.7 813.3,1004.2 820.0,1005.9 C826.7,1007.6 833.3,1009.3 840.0,1011.0 C846.7,1012.6 853.3,1014.5 860.0,1016.0 C866.7,1017.6 873.3,1018.8 880.0,1020.1 C886.7,1021.4 893.3,1022.7 900.0,1024.0 C906.7,1025.3 913.3,1026.7 920.0,1028.0 C926.7,1029.2 933.3,1030.3 940.0,1031.5 C946.7,1032.7 953.3,1033.8 960.0,1035.0 C966.7,1036.2 973.3,1037.4 980.0,1038.6 C986.7,1039.8 993.3,1041.2 1000.0,1042.2 C1006.7,1043.2 1013.3,1043.9 1020.0,1044.7 C1026.7,1045.6 1033.3,1046.4 1040.0,1047.2 C1046.7,1048.0 1053.3,1048.8 1060.0,1049.7 C1066.7,1050.6 1073.3,1051.6 1080.0,1052.6 C1086.7,1053.6 1093.3,1054.7 1100.0,1055.7 C1106.7,1056.6 1113.3,1057.6 1120.0,1058.4 C1126.7,1059.3 1133.3,1060.2 1140.0,1060.9 C1146.7,1061.5 1153.3,1062.0 1160.0,1062.4 C1166.7,1062.8 1173.3,1063.2 1180.0,1063.4 C1186.7,1063.7 1193.3,1063.9 1200.0,1063.9 C1206.7,1063.9 1213.3,1064.4 1220.0,1063.6 C1226.7,1062.7 1235.7,1059.6 1240.0,1058.8 C1244.3,1058.0 1244.0,1058.6 1246.0,1058.6 C1248.0,1058.7 1250.0,1058.9 1252.0,1059.0 C1254.0,1059.1 1256.0,1059.1 1258.0,1059.4 C1260.0,1059.6 1262.0,1060.0 1264.0,1060.5 C1266.0,1060.9 1268.0,1061.6 1270.0,1062.2 C1272.0,1062.7 1274.0,1063.2 1276.0,1064.0 C1278.0,1064.7 1280.0,1066.0 1282.0,1067.0 C1284.0,1068.0 1286.0,1068.8 1288.0,1070.0 C1290.0,1071.1 1292.0,1072.3 1294.0,1073.6 C1296.0,1074.9 1298.0,1076.4 1300.0,1077.8 C1302.0,1079.2 1304.0,1080.3 1306.0,1082.1 C1308.0,1084.0 1310.0,1086.5 1312.0,1088.9 C1314.0,1091.4 1316.0,1093.9 1318.0,1096.6 C1320.0,1099.2 1322.0,1102.0 1324.0,1104.9 C1326.0,1107.7 1328.0,1110.8 1330.0,1113.7 C1332.0,1116.6 1334.7,1120.5 1336.0,1122.4 C1337.3,1124.3 1337.3,1124.2 1338.0,1125.1 C1338.7,1126.0 1339.3,1126.9 1340.0,1127.8 C1340.7,1128.7 1341.3,1129.6 1342.0,1130.5 C1342.7,1131.4 1343.3,1132.3 1344.0,1133.2 C1344.7,1134.1 1345.3,1135.0 1346.0,1135.8 C1346.7,1136.7 1347.3,1137.7 1348.0,1138.4 C1348.7,1139.1 1349.3,1139.7 1350.0,1140.0 C1350.7,1140.3 1351.3,1140.4 1352.0,1140.2 C1352.7,1140.0 1353.3,1139.3 1354.0,1138.9 C1354.7,1138.5 1355.3,1138.3 1356.0,1137.6 C1356.7,1137.0 1357.3,1136.0 1358.0,1135.0 C1358.7,1134.1 1359.3,1132.8 1360.0,1131.7 C1360.7,1130.6 1361.3,1129.9 1362.0,1128.4 C1362.7,1127.0 1363.3,1125.0 1364.0,1123.1 C1364.7,1121.1 1365.3,1118.8 1366.0,1116.6 C1366.7,1114.5 1367.3,1112.8 1368.0,1110.1 C1368.7,1107.5 1369.3,1104.0 1370.0,1100.5 C1370.7,1097.0 1371.3,1093.0 1372.0,1089.2 C1372.7,1085.5 1373.3,1081.7 1374.0,1077.9 C1374.7,1074.1 1375.3,1070.0 1376.0,1066.6 C1376.7,1063.2 1377.3,1060.6 1378.0,1057.6 C1378.7,1054.5 1379.3,1051.5 1380.0,1048.5 C1380.7,1045.5 1381.3,1042.5 1382.0,1039.4 C1382.7,1036.4 1383.3,1033.4 1384.0,1030.4 C1384.7,1027.4 1385.3,1024.6 1386.0,1021.3 C1386.7,1018.0 1387.3,1014.5 1388.0,1010.8 C1388.7,1007.1 1389.3,1003.1 1390.0,999.3 C1390.7,995.4 1391.3,991.6 1392.0,987.8 C1392.7,983.9 1393.3,980.1 1394.0,976.2 C1394.7,972.4 1395.3,968.5 1396.0,964.7 C1396.7,960.9 1397.3,956.6 1398.0,953.4 C1398.7,950.2 1399.3,948.2 1400.0,945.5 C1400.7,942.9 1401.3,940.3 1402.0,937.7 C1402.7,935.1 1403.3,932.5 1404.0,929.8 C1404.7,927.2 1405.3,924.6 1406.0,922.0 C1406.7,919.4 1407.3,916.7 1408.0,914.1 C1408.7,911.5 1409.3,908.8 1410.0,906.3 C1410.7,903.7 1411.3,900.5 1412.0,898.6 C1412.7,896.7 1413.3,896.0 1414.0,894.8 C1414.7,893.5 1415.3,892.2 1416.0,890.9 C1416.7,889.6 1417.3,888.3 1418.0,887.0 C1418.7,885.8 1418.7,885.8 1420.0,883.2 C1421.3,880.6 1424.0,874.7 1426.0,871.6 C1428.0,868.6 1430.0,866.6 1432.0,865.0 C1434.0,863.3 1436.0,862.7 1438.0,861.6 C1440.0,860.4 1442.0,859.1 1444.0,858.2 C1446.0,857.2 1448.0,856.3 1450.0,855.8 C1452.0,855.3 1454.0,855.4 1456.0,855.2 C1458.0,854.9 1460.0,854.7 1462.0,854.5 C1464.0,854.4 1466.0,854.0 1468.0,854.2 C1470.0,854.3 1468.7,854.7 1474.0,855.2 C1479.3,855.6 1490.7,855.5 1500.0,857.0 C1509.3,858.5 1520.0,861.3 1530.0,863.9 C1540.0,866.6 1550.0,869.8 1560.0,873.0 C1570.0,876.2 1580.0,879.9 1590.0,883.2 C1600.0,886.6 1610.0,890.0 1620.0,893.3 C1630.0,896.6 1640.0,900.1 1650.0,903.1 C1660.0,906.1 1670.0,908.9 1680.0,911.4 C1690.0,913.9 1700.0,916.2 1710.0,918.0 C1720.0,919.8 1730.0,921.4 1740.0,922.1 C1750.0,922.9 1760.0,923.2 1770.0,922.6 C1780.0,922.1 1790.0,920.9 1800.0,918.8 C1810.0,916.7 1820.0,914.2 1830.0,910.0 C1840.0,905.8 1850.0,899.3 1860.0,893.7 C1870.0,888.1 1880.0,885.7 1890.0,876.2 C1900.0,866.8 1913.0,847.0 1920.0,837.0 C1927.0,826.9 1928.0,824.8 1932.0,815.9 C1936.0,807.0 1940.0,806.9 1944.0,783.6 C1948.0,760.3 1953.8,699.9 1955.9,676.0 C1958.0,652.1 1956.5,646.0 1956.6,640.0" stroke="#c0c0c0" stroke-width="3.6"/>
<path d="M458.3,341.5 462.3,370.6 468.3,393.2 470.3,403.9 480.3,472.1 488.3,516.7 490.3,527.5 500.3,572.0 510.3,608.5 520.3,638.8 530.3,664.7 540.3,687.1 550.3,706.9 560.3,724.7 570.3,741.0 580.3,756.4 600.3,785.0 620.3,810.7 640.3,833.0 660.3,852.3 680.3,869.6 700.3,884.9 717.3,896.6 726.8,902.5 737.8,908.6 747.3,912.5 751.8,913.5 755.8,913.8 759.3,913.4 761.8,912.5 764.8,910.6 767.3,908.3 769.8,905.2 772.3,901.0 776.8,890.2 780.8,876.0 784.3,858.9 789.3,825.3 794.3,779.1 800.3,705.9 808.8,579.9 819.3,483.7 826.8,421.9 833.8,372.9 840.8,332.9 847.8,301.7 853.8,281.1 859.8,265.1 863.3,257.6 866.8,251.2 870.8,245.1 874.8,240.1 879.3,235.5 884.8,231.1 889.8,228.0 895.3,225.4 900.3,223.8 905.8,223.1 909.8,223.0 915.8,223.7 923.8,225.6 933.8,229.2 943.8,233.8 955.8,240.2 965.8,246.3 977.8,254.4 987.8,261.9 999.8,271.8 1017.8,288.5 1025.8,296.9 1035.8,308.2 1059.8,337.6 1089.8,378.3 1107.8,401.6 1121.8,417.7 1139.8,436.1 1151.8,446.8 1193.8,480.4 1227.8,505.1 1251.8,523.2 1291.8,549.5 1329.8,572.4 1389.8,605.7 1429.8,625.8 1471.8,645.4 1507.8,660.8 1533.8,670.0 1557.8,679.2 1727.8,746.2 1769.8,764.0 1801.8,780.4 1821.8,791.6 1831.8,798.0 1849.8,811.1 1859.8,817.2 1863.8,820.2 1871.8,827.9 1877.8,835.9 1881.8,843.6 1887.8,860.5 1893.8,881.8 1901.8,917.0 1913.8,960.9 1925.8,1010.9 1943.8,1076.4 1949.8,1104.8 1951.8,1109.0 1953.8,1115.0" stroke="#a0b6cd" stroke-width="3.6"/>
<path d="M459.0,1185.0 C459.1,1174.2 459.2,1150.8 459.3,1120.0 C459.4,1089.2 459.6,1040.0 459.8,1000.0 C460.0,960.0 460.3,913.3 460.5,880.0 C460.7,846.7 460.9,820.0 461.2,800.0 C461.5,780.0 461.9,770.5 462.5,760.0 C463.1,749.5 463.6,743.0 464.5,737.0 C465.4,731.0 466.8,726.8 468.0,724.0 C469.2,721.2 470.2,719.7 471.5,720.0 C472.8,720.3 474.4,723.2 476.0,726.0 C477.6,728.8 479.0,732.7 481.0,737.0 C483.0,741.3 485.2,746.3 488.0,752.0 C490.8,757.7 494.3,764.3 498.0,771.0 C501.7,777.7 505.8,784.7 510.0,792.0 C514.2,799.3 518.0,806.7 523.0,815.0 C528.0,823.3 534.3,834.0 540.0,842.0 C545.7,850.0 550.0,855.2 557.0,863.0 C564.0,870.8 574.8,880.8 582.0,889.0 C589.2,897.2 593.7,905.8 600.0,912.1 C606.3,918.4 613.3,922.3 620.0,926.8 C626.7,931.3 633.3,935.3 640.0,939.1 C646.7,943.0 653.3,946.3 660.0,949.6 C666.7,953.0 673.3,956.3 680.0,959.2 C686.7,962.1 693.3,964.5 700.0,967.0 C706.7,969.6 713.3,972.1 720.0,974.4 C726.7,976.8 733.3,979.0 740.0,981.1 C746.7,983.2 753.3,984.9 760.0,987.0 C766.7,989.1 773.3,991.6 780.0,993.8 C786.7,996.1 793.3,998.7 800.0,1000.7 C806.7,1002.7 813.3,1004.2 820.0,1005.9 C826.7,1007.6 833.3,1009.3 840.0,1011.0 C846.7,1012.6 853.3,1014.5 860.0,1016.0 C866.7,1017.6 873.3,1018.8 880.0,1020.1 C886.7,1021.4 893.3,1022.7 900.0,1024.0 C906.7,1025.3 913.3,1026.7 920.0,1028.0 C926.7,1029.2 933.3,1030.3 940.0,1031.5 C946.7,1032.7 953.3,1033.8 960.0,1035.0 C966.7,1036.2 973.3,1037.4 980.0,1038.6 C986.7,1039.8 993.3,1041.2 1000.0,1042.2 C1006.7,1043.2 1013.3,1043.9 1020.0,1044.7 C1026.7,1045.6 1033.3,1046.4 1040.0,1047.2 C1046.7,1048.0 1053.3,1048.8 1060.0,1049.7 C1066.7,1050.6 1073.3,1051.6 1080.0,1052.6 C1086.7,1053.6 1093.3,1054.7 1100.0,1055.7 C1106.7,1056.6 1113.3,1057.6 1120.0,1058.4 C1126.7,1059.3 1133.3,1060.2 1140.0,1060.9 C1146.7,1061.5 1153.3,1062.0 1160.0,1062.4 C1166.7,1062.8 1173.3,1063.2 1180.0,1063.4 C1186.7,1063.7 1193.3,1063.9 1200.0,1063.9 C1206.7,1063.9 1213.3,1063.9 1220.0,1063.6 C1226.7,1063.2 1235.7,1062.1 1240.0,1061.8 C1244.3,1061.5 1244.0,1061.6 1246.0,1061.6 C1248.0,1061.7 1250.0,1061.9 1252.0,1062.0 C1254.0,1062.1 1256.0,1062.1 1258.0,1062.4 C1260.0,1062.6 1262.0,1063.0 1264.0,1063.5 C1266.0,1063.9 1268.0,1064.6 1270.0,1065.2 C1272.0,1065.7 1274.0,1066.2 1276.0,1067.0 C1278.0,1067.7 1280.0,1069.0 1282.0,1070.0 C1284.0,1071.0 1286.0,1071.8 1288.0,1073.0 C1290.0,1074.1 1292.0,1075.3 1294.0,1076.6 C1296.0,1077.9 1298.0,1079.4 1300.0,1080.8 C1302.0,1082.2 1304.0,1083.3 1306.0,1085.1 C1308.0,1087.0 1310.0,1089.5 1312.0,1091.9 C1314.0,1094.2 1316.0,1096.7 1318.0,1099.2 C1320.0,1101.8 1322.0,1104.5 1324.0,1107.2 C1326.0,1110.0 1328.0,1112.9 1330.0,1115.7 C1332.0,1118.6 1334.7,1122.3 1336.0,1124.2 C1337.3,1126.0 1337.3,1125.9 1338.0,1126.8 C1338.7,1127.6 1339.3,1128.5 1340.0,1129.3 C1340.7,1130.2 1341.3,1131.1 1342.0,1131.9 C1342.7,1132.8 1343.3,1133.6 1344.0,1134.5 C1344.7,1135.4 1345.3,1136.3 1346.0,1137.1 C1346.7,1137.9 1347.3,1138.9 1348.0,1139.5 C1348.7,1140.2 1349.3,1140.6 1350.0,1141.1 C1350.7,1141.6 1351.3,1142.1 1352.0,1142.7 C1352.7,1143.2 1353.3,1144.1 1354.0,1144.2 C1354.7,1144.4 1355.3,1143.7 1356.0,1143.3 C1356.7,1142.9 1357.3,1142.4 1358.0,1141.9 C1358.7,1141.4 1359.3,1141.1 1360.0,1140.2 C1360.7,1139.4 1361.3,1137.9 1362.0,1136.8 C1362.7,1135.6 1363.3,1134.6 1364.0,1133.3 C1364.7,1132.1 1365.3,1131.2 1366.0,1129.4 C1366.7,1127.7 1367.3,1125.0 1368.0,1122.8 C1368.7,1120.6 1369.3,1118.6 1370.0,1116.2 C1370.7,1113.9 1371.3,1112.0 1372.0,1108.9 C1372.7,1105.8 1373.3,1101.3 1374.0,1097.5 C1374.7,1093.7 1375.3,1089.8 1376.0,1086.0 C1376.7,1082.2 1377.3,1078.2 1378.0,1074.6 C1378.7,1071.0 1379.3,1067.5 1380.0,1064.3 C1380.7,1061.0 1381.3,1058.1 1382.0,1055.1 C1382.7,1052.0 1383.3,1049.0 1384.0,1045.9 C1384.7,1042.8 1385.3,1039.8 1386.0,1036.7 C1386.7,1033.6 1387.3,1030.6 1388.0,1027.5 C1388.7,1024.4 1389.3,1021.6 1390.0,1018.1 C1390.7,1014.6 1391.3,1010.3 1392.0,1006.4 C1392.7,1002.5 1393.3,998.7 1394.0,994.8 C1394.7,990.9 1395.3,987.0 1396.0,983.1 C1396.7,979.2 1397.3,975.4 1398.0,971.5 C1398.7,967.6 1399.3,963.4 1400.0,959.8 C1400.7,956.3 1401.3,953.1 1402.0,950.2 C1402.7,947.3 1403.3,944.9 1404.0,942.2 C1404.7,939.6 1405.3,936.9 1406.0,934.2 C1406.7,931.6 1407.3,928.9 1408.0,926.2 C1408.7,923.6 1409.3,920.9 1410.0,918.2 C1410.7,915.6 1411.3,912.9 1412.0,910.3 C1412.7,907.6 1413.3,904.5 1414.0,902.2 C1414.7,900.0 1415.3,898.3 1416.0,896.7 C1416.7,895.1 1417.3,894.1 1418.0,892.8 C1418.7,891.5 1418.7,891.5 1420.0,889.0 C1421.3,886.4 1424.0,881.1 1426.0,877.4 C1428.0,873.7 1430.0,869.0 1432.0,866.7 C1434.0,864.3 1436.0,864.4 1438.0,863.3 C1440.0,862.1 1442.0,861.0 1444.0,859.9 C1446.0,858.7 1448.0,857.2 1450.0,856.5 C1452.0,855.7 1454.0,855.7 1456.0,855.5 C1458.0,855.2 1460.0,855.0 1462.0,854.8 C1464.0,854.6 1466.0,854.2 1468.0,854.2 C1470.0,854.2 1468.7,854.1 1474.0,854.7 C1479.3,855.2 1490.7,855.8 1500.0,857.6 C1509.3,859.4 1520.0,862.5 1530.0,865.4 C1540.0,868.4 1550.0,871.9 1560.0,875.4 C1570.0,878.9 1580.0,882.7 1590.0,886.2 C1600.0,889.7 1610.0,893.0 1620.0,896.3 C1630.0,899.6 1640.0,903.1 1650.0,906.1 C1660.0,909.1 1670.0,911.9 1680.0,914.4 C1690.0,916.9 1700.0,919.2 1710.0,921.0 C1720.0,922.8 1730.0,924.4 1740.0,925.1 C1750.0,925.9 1760.0,926.2 1770.0,925.6 C1780.0,925.1 1790.0,923.9 1800.0,921.8 C1810.0,919.7 1820.0,917.2 1830.0,913.0 C1840.0,908.8 1850.0,902.4 1860.0,896.6 C1870.0,890.8 1880.0,887.9 1890.0,878.0 C1900.0,868.1 1913.0,847.7 1920.0,837.3 C1927.0,827.0 1928.0,824.9 1932.0,816.0 C1936.0,807.0 1940.0,806.9 1944.0,783.6 C1948.0,760.3 1953.8,699.9 1955.9,676.0 C1958.0,652.1 1956.5,646.0 1956.6,640.0" stroke="#c0c0c0" stroke-width="3.6"/>
<path d="M458.3,341.5 462.3,370.6 468.3,393.2 470.3,403.9 480.3,472.2 488.3,517.0 490.3,527.8 500.3,572.5 510.3,609.2 520.3,639.8 530.3,665.9 540.3,688.6 550.3,708.6 560.3,726.7 570.3,743.2 580.3,758.7 600.3,787.4 620.3,813.2 640.3,835.4 660.3,854.8 680.3,872.0 698.3,885.9 720.3,901.4 739.8,913.6 751.3,919.8 760.3,924.0 765.3,925.5 769.3,926.1 772.8,926.1 776.3,925.3 778.8,924.0 781.3,922.0 783.8,919.0 786.3,914.9 790.3,905.2 793.8,892.6 797.3,874.8 799.8,858.2 802.3,837.9 806.8,790.6 812.3,713.8 819.3,596.0 828.8,497.7 835.3,437.8 841.3,390.9 847.3,352.7 853.8,320.8 858.8,302.1 864.3,286.2 870.3,273.3 876.8,263.5 880.3,259.5 884.3,255.8 887.8,253.3 891.8,251.2 895.8,249.9 900.3,249.1 905.8,249.1 909.8,249.6 917.8,251.6 925.8,254.5 935.8,259.1 947.8,265.6 961.8,274.0 975.8,283.2 991.8,294.6 1003.8,303.7 1023.8,320.8 1039.8,336.7 1059.8,357.6 1091.8,395.7 1107.8,413.7 1121.8,427.8 1137.8,442.4 1185.8,481.5 1197.8,490.7 1229.8,513.6 1251.8,530.0 1281.8,549.5 1297.8,559.5 1331.8,579.6 1391.8,612.7 1427.8,630.6 1471.8,650.8 1507.8,666.0 1551.8,682.0 1725.8,749.7 1771.8,769.0 1801.8,784.1 1821.8,795.3 1831.8,801.5 1849.8,814.5 1859.8,820.6 1863.8,823.6 1871.8,831.5 1875.8,836.6 1877.8,839.9 1881.8,848.0 1887.8,864.9 1893.8,886.0 1901.8,920.4 1913.8,963.6 1927.8,1020.6 1943.8,1077.5 1949.8,1104.8 1951.8,1109.0 1953.8,1115.0" stroke="#a0b6cd" stroke-width="3.6"/>
<path d="M459.0,1185.0 C459.1,1174.2 459.2,1150.8 459.3,1120.0 C459.4,1089.2 459.6,1040.0 459.8,1000.0 C460.0,960.0 460.3,913.3 460.5,880.0 C460.7,846.7 460.9,820.0 461.2,800.0 C461.5,780.0 461.9,770.5 462.5,760.0 C463.1,749.5 463.6,743.0 464.5,737.0 C465.4,731.0 466.8,726.8 468.0,724.0 C469.2,721.2 470.2,719.7 471.5,720.0 C472.8,720.3 474.4,723.2 476.0,726.0 C477.6,728.8 479.0,732.7 481.0,737.0 C483.0,741.3 485.2,746.3 488.0,752.0 C490.8,757.7 494.3,764.3 498.0,771.0 C501.7,777.7 505.8,784.7 510.0,792.0 C514.2,799.3 518.0,806.7 523.0,815.0 C528.0,823.3 534.3,834.0 540.0,842.0 C545.7,850.0 550.0,855.2 557.0,863.0 C564.0,870.8 574.8,880.8 582.0,889.0 C589.2,897.2 593.7,905.8 600.0,912.1 C606.3,918.4 613.3,922.3 620.0,926.8 C626.7,931.3 633.3,935.3 640.0,939.1 C646.7,943.0 653.3,946.3 660.0,949.6 C666.7,953.0 673.3,956.3 680.0,959.2 C686.7,962.1 693.3,964.5 700.0,967.0 C706.7,969.6 713.3,972.1 720.0,974.4 C726.7,976.8 733.3,979.0 740.0,981.1 C746.7,983.2 753.3,984.9 760.0,987.0 C766.7,989.1 773.3,991.6 780.0,993.8 C786.7,996.1 793.3,998.7 800.0,1000.7 C806.7,1002.7 813.3,1004.2 820.0,1005.9 C826.7,1007.6 833.3,1009.3 840.0,1011.0 C846.7,1012.6 853.3,1014.5 860.0,1016.0 C866.7,1017.6 873.3,1018.8 880.0,1020.1 C886.7,1021.4 893.3,1022.7 900.0,1024.0 C906.7,1025.3 913.3,1026.7 920.0,1028.0 C926.7,1029.2 933.3,1030.3 940.0,1031.5 C946.7,1032.7 953.3,1033.8 960.0,1035.0 C966.7,1036.2 973.3,1037.4 980.0,1038.6 C986.7,1039.8 993.3,1041.2 1000.0,1042.2 C1006.7,1043.2 1013.3,1043.9 1020.0,1044.7 C1026.7,1045.6 1033.3,1046.4 1040.0,1047.2 C1046.7,1048.0 1053.3,1048.8 1060.0,1049.7 C1066.7,1050.6 1073.3,1051.6 1080.0,1052.6 C1086.7,1053.6 1093.3,1054.7 1100.0,1055.7 C1106.7,1056.6 1113.3,1057.6 1120.0,1058.4 C1126.7,1059.3 1133.3,1060.2 1140.0,1060.9 C1146.7,1061.5 1153.3,1062.0 1160.0,1062.4 C1166.7,1062.8 1173.3,1063.2 1180.0,1063.4 C1186.7,1063.7 1193.3,1063.9 1200.0,1063.9 C1206.7,1063.9 1213.3,1063.4 1220.0,1063.6 C1226.7,1063.7 1235.7,1064.6 1240.0,1064.8 C1244.3,1065.0 1244.0,1064.6 1246.0,1064.6 C1248.0,1064.7 1250.0,1064.9 1252.0,1065.0 C1254.0,1065.1 1256.0,1065.1 1258.0,1065.4 C1260.0,1065.6 1262.0,1066.0 1264.0,1066.5 C1266.0,1066.9 1268.0,1067.6 1270.0,1068.2 C1272.0,1068.7 1274.0,1069.2 1276.0,1070.0 C1278.0,1070.7 1280.0,1072.0 1282.0,1073.0 C1284.0,1074.0 1286.0,1074.8 1288.0,1076.0 C1290.0,1077.1 1292.0,1078.3 1294.0,1079.6 C1296.0,1080.9 1298.0,1082.4 1300.0,1083.8 C1302.0,1085.2 1304.0,1086.3 1306.0,1088.1 C1308.0,1090.0 1310.0,1092.6 1312.0,1094.8 C1314.0,1097.1 1316.0,1099.4 1318.0,1101.9 C1320.0,1104.3 1322.0,1106.9 1324.0,1109.6 C1326.0,1112.2 1328.0,1115.1 1330.0,1117.8 C1332.0,1120.5 1334.7,1124.2 1336.0,1125.9 C1337.3,1127.7 1337.3,1127.6 1338.0,1128.4 C1338.7,1129.2 1339.3,1130.1 1340.0,1130.9 C1340.7,1131.7 1341.3,1132.6 1342.0,1133.4 C1342.7,1134.2 1343.3,1135.0 1344.0,1135.9 C1344.7,1136.7 1345.3,1137.5 1346.0,1138.3 C1346.7,1139.1 1347.3,1140.0 1348.0,1140.7 C1348.7,1141.3 1349.3,1141.7 1350.0,1142.1 C1350.7,1142.6 1351.3,1143.1 1352.0,1143.6 C1352.7,1144.1 1353.3,1144.5 1354.0,1145.1 C1354.7,1145.7 1355.3,1146.2 1356.0,1147.1 C1356.7,1147.9 1357.3,1149.7 1358.0,1150.3 C1358.7,1150.9 1359.3,1150.8 1360.0,1150.6 C1360.7,1150.4 1361.3,1149.5 1362.0,1149.0 C1362.7,1148.5 1363.3,1148.0 1364.0,1147.4 C1364.7,1146.8 1365.3,1146.4 1366.0,1145.5 C1366.7,1144.6 1367.3,1143.1 1368.0,1141.9 C1368.7,1140.7 1369.3,1139.5 1370.0,1138.2 C1370.7,1136.9 1371.3,1135.9 1372.0,1134.1 C1372.7,1132.3 1373.3,1129.6 1374.0,1127.3 C1374.7,1125.1 1375.3,1122.9 1376.0,1120.5 C1376.7,1118.1 1377.3,1116.2 1378.0,1113.0 C1378.7,1109.8 1379.3,1105.2 1380.0,1101.4 C1380.7,1097.5 1381.3,1093.6 1382.0,1089.7 C1382.7,1085.8 1383.3,1081.8 1384.0,1078.1 C1384.7,1074.4 1385.3,1070.9 1386.0,1067.6 C1386.7,1064.2 1387.3,1061.3 1388.0,1058.2 C1388.7,1055.0 1389.3,1051.9 1390.0,1048.8 C1390.7,1045.6 1391.3,1042.5 1392.0,1039.4 C1392.7,1036.3 1393.3,1033.2 1394.0,1030.0 C1394.7,1026.8 1395.3,1023.9 1396.0,1020.4 C1396.7,1016.8 1397.3,1012.5 1398.0,1008.5 C1398.7,1004.6 1399.3,1000.6 1400.0,996.7 C1400.7,992.7 1401.3,988.8 1402.0,984.8 C1402.7,980.9 1403.3,976.9 1404.0,973.0 C1404.7,969.0 1405.3,964.7 1406.0,961.1 C1406.7,957.5 1407.3,954.3 1408.0,951.3 C1408.7,948.3 1409.3,945.8 1410.0,943.1 C1410.7,940.4 1411.3,937.6 1412.0,934.9 C1412.7,932.2 1413.3,929.5 1414.0,926.7 C1414.7,924.0 1415.3,921.3 1416.0,918.5 C1416.7,915.8 1417.3,913.1 1418.0,910.3 C1418.7,907.6 1418.7,905.8 1420.0,902.2 C1421.3,898.7 1424.0,893.1 1426.0,889.0 C1428.0,884.8 1430.0,881.1 1432.0,877.4 C1434.0,873.7 1436.0,869.0 1438.0,866.7 C1440.0,864.3 1442.0,864.4 1444.0,863.3 C1446.0,862.1 1448.0,861.0 1450.0,859.9 C1452.0,858.7 1454.0,857.2 1456.0,856.5 C1458.0,855.7 1460.0,855.7 1462.0,855.5 C1464.0,855.2 1466.0,855.0 1468.0,854.8 C1470.0,854.6 1468.7,853.7 1474.0,854.2 C1479.3,854.7 1490.7,856.0 1500.0,858.0 C1509.3,860.0 1520.0,863.3 1530.0,866.4 C1540.0,869.6 1550.0,873.4 1560.0,877.0 C1570.0,880.6 1580.0,884.6 1590.0,888.2 C1600.0,891.7 1610.0,895.0 1620.0,898.3 C1630.0,901.6 1640.0,905.1 1650.0,908.1 C1660.0,911.1 1670.0,913.9 1680.0,916.4 C1690.0,918.9 1700.0,921.2 1710.0,923.0 C1720.0,924.8 1730.0,926.4 1740.0,927.1 C1750.0,927.9 1760.0,928.2 1770.0,927.6 C1780.0,927.1 1790.0,925.9 1800.0,923.8 C1810.0,921.7 1820.0,919.2 1830.0,915.0 C1840.0,910.8 1850.0,904.5 1860.0,898.5 C1870.0,892.6 1880.0,889.3 1890.0,879.1 C1900.0,869.0 1913.0,848.1 1920.0,837.6 C1927.0,827.1 1928.0,825.0 1932.0,816.0 C1936.0,807.0 1940.0,806.9 1944.0,783.6 C1948.0,760.3 1953.8,699.9 1955.9,676.0 C1958.0,652.1 1956.5,646.0 1956.6,640.0" stroke="#c0c0c0" stroke-width="3.6"/>
<path d="M458.3,341.5 462.3,370.6 468.3,393.3 470.3,403.9 480.3,472.3 488.3,517.2 490.3,528.0 500.3,572.9 510.3,609.7 520.3,640.5 530.3,666.9 540.3,689.8 550.3,710.1 560.3,728.3 570.3,745.0 590.3,775.3 600.3,789.5 620.3,815.2 640.3,837.5 660.3,856.8 680.3,874.1 700.3,889.5 720.3,903.5 736.3,913.5 758.3,926.0 769.3,930.5 773.3,931.7 777.8,932.4 780.8,932.4 784.3,931.7 787.3,930.2 789.8,928.4 792.3,925.7 794.8,922.0 799.3,912.2 803.3,898.6 806.8,881.8 811.8,847.9 816.8,799.7 822.8,721.9 829.8,611.2 840.3,509.7 846.8,453.9 853.3,406.3 859.8,367.8 866.8,335.7 872.3,316.6 877.8,301.8 883.8,289.7 887.3,284.1 890.8,279.5 894.8,275.2 898.8,271.7 903.3,268.6 907.3,266.5 911.8,265.0 916.3,264.2 921.8,264.1 925.8,264.4 933.8,266.2 941.8,269.0 951.8,273.4 963.8,279.7 977.8,287.8 993.8,298.0 1005.8,306.2 1017.8,315.1 1033.8,328.5 1057.8,351.3 1065.8,359.7 1099.8,398.2 1113.8,413.4 1137.8,437.2 1157.8,455.1 1191.8,482.6 1227.8,508.6 1249.8,525.2 1287.8,550.2 1321.8,570.7 1337.8,579.9 1395.8,611.8 1431.8,629.6 1481.8,652.5 1507.8,663.4 1553.8,680.2 1725.8,747.6 1769.8,766.0 1799.8,781.2 1821.8,793.5 1831.8,799.8 1849.8,812.8 1859.8,818.9 1863.8,821.9 1871.8,829.7 1875.8,834.7 1877.8,837.9 1881.8,845.8 1887.8,862.7 1893.8,883.9 1901.8,918.7 1913.8,962.2 1927.8,1019.6 1943.8,1077.0 1949.8,1104.8 1951.8,1109.0 1953.8,1115.0" stroke="#a0b6cd" stroke-width="3.6"/>
<path d="M459.0,1185.0 C459.1,1174.2 459.2,1150.8 459.3,1120.0 C459.4,1089.2 459.6,1040.0 459.8,1000.0 C460.0,960.0 460.3,913.3 460.5,880.0 C460.7,846.7 460.9,820.0 461.2,800.0 C461.5,780.0 461.9,770.5 462.5,760.0 C463.1,749.5 463.6,743.0 464.5,737.0 C465.4,731.0 466.8,726.8 468.0,724.0 C469.2,721.2 470.2,719.7 471.5,720.0 C472.8,720.3 474.4,723.2 476.0,726.0 C477.6,728.8 479.0,732.7 481.0,737.0 C483.0,741.3 485.2,746.3 488.0,752.0 C490.8,757.7 494.3,764.3 498.0,771.0 C501.7,777.7 505.8,784.7 510.0,792.0 C514.2,799.3 518.0,806.7 523.0,815.0 C528.0,823.3 534.3,834.0 540.0,842.0 C545.7,850.0 550.0,855.2 557.0,863.0 C564.0,870.8 574.8,880.8 582.0,889.0 C589.2,897.2 593.7,905.8 600.0,912.1 C606.3,918.4 613.3,922.3 620.0,926.8 C626.7,931.3 633.3,935.3 640.0,939.1 C646.7,943.0 653.3,946.3 660.0,949.6 C666.7,953.0 673.3,956.3 680.0,959.2 C686.7,962.1 693.3,964.5 700.0,967.0 C706.7,969.6 713.3,972.1 720.0,974.4 C726.7,976.8 733.3,979.0 740.0,981.1 C746.7,983.2 753.3,984.9 760.0,987.0 C766.7,989.1 773.3,991.6 780.0,993.8 C786.7,996.1 793.3,998.7 800.0,1000.7 C806.7,1002.7 813.3,1004.2 820.0,1005.9 C826.7,1007.6 833.3,1009.3 840.0,1011.0 C846.7,1012.6 853.3,1014.5 860.0,1016.0 C866.7,1017.6 873.3,1018.8 880.0,1020.1 C886.7,1021.4 893.3,1022.7 900.0,1024.0 C906.7,1025.3 913.3,1026.7 920.0,1028.0 C926.7,1029.2 933.3,1030.3 940.0,1031.5 C946.7,1032.7 953.3,1033.8 960.0,1035.0 C966.7,1036.2 973.3,1037.4 980.0,1038.6 C986.7,1039.8 993.3,1041.2 1000.0,1042.2 C1006.7,1043.2 1013.3,1043.9 1020.0,1044.7 C1026.7,1045.6 1033.3,1046.4 1040.0,1047.2 C1046.7,1048.0 1053.3,1048.8 1060.0,1049.7 C1066.7,1050.6 1073.3,1051.6 1080.0,1052.6 C1086.7,1053.6 1093.3,1054.7 1100.0,1055.7 C1106.7,1056.6 1113.3,1057.6 1120.0,1058.4 C1126.7,1059.3 1133.3,1060.2 1140.0,1060.9 C1146.7,1061.5 1153.3,1062.0 1160.0,1062.4 C1166.7,1062.8 1173.3,1063.2 1180.0,1063.4 C1186.7,1063.7 1193.3,1063.9 1200.0,1063.9 C1206.7,1063.9 1213.3,1063.2 1220.0,1063.6 C1226.7,1063.9 1235.7,1065.5 1240.0,1065.8 C1244.3,1066.2 1244.0,1065.6 1246.0,1065.6 C1248.0,1065.7 1250.0,1065.9 1252.0,1066.0 C1254.0,1066.1 1256.0,1066.1 1258.0,1066.4 C1260.0,1066.6 1262.0,1067.0 1264.0,1067.5 C1266.0,1067.9 1268.0,1068.6 1270.0,1069.2 C1272.0,1069.7 1274.0,1070.2 1276.0,1071.0 C1278.0,1071.7 1280.0,1073.0 1282.0,1074.0 C1284.0,1075.0 1286.0,1075.8 1288.0,1077.0 C1290.0,1078.1 1292.0,1079.3 1294.0,1080.6 C1296.0,1081.9 1298.0,1083.4 1300.0,1084.8 C1302.0,1086.2 1304.0,1087.3 1306.0,1089.1 C1308.0,1091.0 1310.0,1093.6 1312.0,1095.8 C1314.0,1098.1 1316.0,1100.3 1318.0,1102.8 C1320.0,1105.2 1322.0,1107.8 1324.0,1110.4 C1326.0,1113.0 1328.0,1115.8 1330.0,1118.5 C1332.0,1121.2 1334.7,1124.8 1336.0,1126.5 C1337.3,1128.3 1337.3,1128.2 1338.0,1129.0 C1338.7,1129.8 1339.3,1130.6 1340.0,1131.4 C1340.7,1132.2 1341.3,1133.0 1342.0,1133.9 C1342.7,1134.7 1343.3,1135.5 1344.0,1136.3 C1344.7,1137.1 1345.3,1138.0 1346.0,1138.8 C1346.7,1139.5 1347.3,1140.4 1348.0,1141.1 C1348.7,1141.7 1349.3,1142.0 1350.0,1142.5 C1350.7,1143.0 1351.3,1143.5 1352.0,1143.9 C1352.7,1144.4 1353.3,1144.8 1354.0,1145.4 C1354.7,1145.9 1355.3,1146.4 1356.0,1147.2 C1356.7,1148.0 1357.3,1149.3 1358.0,1150.4 C1358.7,1151.5 1359.3,1152.8 1360.0,1153.6 C1360.7,1154.4 1361.3,1155.4 1362.0,1155.4 C1362.7,1155.4 1363.3,1154.3 1364.0,1153.7 C1364.7,1153.1 1365.3,1152.5 1366.0,1151.9 C1366.7,1151.4 1367.3,1151.0 1368.0,1150.2 C1368.7,1149.4 1369.3,1148.3 1370.0,1147.1 C1370.7,1146.0 1371.3,1144.6 1372.0,1143.4 C1372.7,1142.1 1373.3,1141.2 1374.0,1139.6 C1374.7,1138.0 1375.3,1135.9 1376.0,1133.8 C1376.7,1131.7 1377.3,1129.2 1378.0,1126.9 C1378.7,1124.5 1379.3,1122.8 1380.0,1119.9 C1380.7,1117.1 1381.3,1113.5 1382.0,1109.8 C1382.7,1106.2 1383.3,1102.0 1384.0,1098.1 C1384.7,1094.1 1385.3,1090.2 1386.0,1086.3 C1386.7,1082.4 1387.3,1078.1 1388.0,1074.5 C1388.7,1071.0 1389.3,1068.2 1390.0,1065.0 C1390.7,1061.8 1391.3,1058.6 1392.0,1055.5 C1392.7,1052.3 1393.3,1049.1 1394.0,1045.9 C1394.7,1042.8 1395.3,1039.6 1396.0,1036.4 C1396.7,1033.2 1397.3,1030.3 1398.0,1026.9 C1398.7,1023.5 1399.3,1019.7 1400.0,1015.9 C1400.7,1012.1 1401.3,1007.9 1402.0,1003.9 C1402.7,999.9 1403.3,995.9 1404.0,991.9 C1404.7,987.9 1405.3,984.0 1406.0,980.0 C1406.7,976.0 1407.3,971.9 1408.0,968.0 C1408.7,964.0 1409.3,959.5 1410.0,956.2 C1410.7,952.8 1411.3,950.6 1412.0,947.9 C1412.7,945.1 1413.3,942.3 1414.0,939.5 C1414.7,936.8 1415.3,934.0 1416.0,931.2 C1416.7,928.4 1417.3,925.7 1418.0,922.9 C1418.7,920.1 1418.7,919.3 1420.0,914.6 C1421.3,909.9 1424.0,900.0 1426.0,894.8 C1428.0,889.5 1430.0,887.0 1432.0,883.2 C1434.0,879.3 1436.0,874.7 1438.0,871.6 C1440.0,868.6 1442.0,866.6 1444.0,865.0 C1446.0,863.3 1448.0,862.7 1450.0,861.6 C1452.0,860.4 1454.0,859.1 1456.0,858.2 C1458.0,857.2 1460.0,856.3 1462.0,855.8 C1464.0,855.3 1466.0,855.4 1468.0,855.2 C1470.0,854.9 1468.7,853.9 1474.0,854.5 C1479.3,855.1 1490.7,856.5 1500.0,858.8 C1509.3,861.1 1520.0,864.9 1530.0,868.4 C1540.0,872.0 1550.0,876.3 1560.0,880.2 C1570.0,884.2 1580.0,888.4 1590.0,892.1 C1600.0,895.8 1610.0,899.0 1620.0,902.3 C1630.0,905.7 1640.0,909.1 1650.0,912.1 C1660.0,915.1 1670.0,917.9 1680.0,920.4 C1690.0,922.9 1700.0,925.2 1710.0,927.0 C1720.0,928.8 1730.0,930.4 1740.0,931.1 C1750.0,931.9 1760.0,932.2 1770.0,931.6 C1780.0,931.1 1790.0,929.9 1800.0,927.8 C1810.0,925.7 1820.0,923.2 1830.0,919.0 C1840.0,914.8 1850.0,908.6 1860.0,902.4 C1870.0,896.1 1880.0,892.2 1890.0,881.5 C1900.0,870.8 1913.0,849.0 1920.0,838.1 C1927.0,827.2 1928.0,825.2 1932.0,816.1 C1936.0,807.0 1940.0,807.0 1944.0,783.6 C1948.0,760.3 1953.8,699.9 1955.9,676.0 C1958.0,652.1 1956.5,646.0 1956.6,640.0" stroke="#c0c0c0" stroke-width="3.6"/>
<path d="M458.3,341.5 462.3,370.6 468.3,393.3 470.3,404.0 480.3,472.6 488.3,517.8 490.3,528.7 500.3,574.1 510.3,611.6 520.3,643.0 528.3,664.8 540.3,693.7 550.3,714.6 558.3,729.8 570.3,750.8 580.3,766.8 600.3,796.0 620.3,821.7 640.3,844.0 660.3,863.3 680.3,880.6 700.3,896.0 720.3,910.0 740.3,922.7 760.3,934.3 778.3,943.8 791.8,950.2 800.8,953.6 809.3,955.3 812.8,955.2 815.8,954.5 818.3,953.3 820.8,951.5 823.3,948.8 825.3,945.8 829.3,937.0 832.8,925.1 836.3,908.1 839.3,888.1 842.3,862.3 844.8,835.7 850.8,751.9 857.8,626.9 866.3,532.6 871.3,482.5 875.8,442.4 879.8,411.3 884.3,381.6 889.3,354.9 894.8,332.0 900.3,314.9 903.3,307.6 906.8,300.5 910.3,294.7 913.8,290.0 917.3,286.3 921.3,283.3 925.3,281.2 929.8,279.9 934.8,279.4 939.8,279.8 945.8,281.0 953.8,283.6 961.8,287.1 973.8,293.3 985.8,300.3 999.8,309.1 1011.8,317.4 1023.8,326.4 1037.8,338.0 1059.8,358.0 1071.8,370.7 1107.8,410.7 1121.8,425.5 1145.8,449.3 1167.8,469.1 1193.8,490.2 1251.8,532.2 1287.8,555.4 1321.8,575.8 1339.8,586.1 1395.8,616.8 1431.8,634.4 1477.8,655.2 1507.8,667.7 1551.8,683.7 1725.8,751.2 1769.8,769.4 1801.8,785.4 1821.8,796.5 1831.8,802.7 1849.8,815.6 1859.8,821.7 1863.8,824.7 1871.8,832.8 1875.8,837.9 1877.8,841.2 1881.8,849.5 1887.8,866.3 1893.8,887.4 1901.8,921.6 1913.8,964.6 1927.8,1021.4 1943.8,1077.9 1949.8,1104.8 1951.8,1109.0 1953.8,1115.0" stroke="#a0b6cd" stroke-width="3.6"/>
<path d="M459.0,1185.0 C459.1,1174.2 459.2,1150.8 459.3,1120.0 C459.4,1089.2 459.6,1040.0 459.8,1000.0 C460.0,960.0 460.3,913.3 460.5,880.0 C460.7,846.7 460.9,820.0 461.2,800.0 C461.5,780.0 461.9,770.5 462.5,760.0 C463.1,749.5 463.6,743.0 464.5,737.0 C465.4,731.0 466.8,726.8 468.0,724.0 C469.2,721.2 470.2,719.7 471.5,720.0 C472.8,720.3 474.4,723.2 476.0,726.0 C477.6,728.8 479.0,732.7 481.0,737.0 C483.0,741.3 485.2,746.3 488.0,752.0 C490.8,757.7 494.3,764.3 498.0,771.0 C501.7,777.7 505.8,784.7 510.0,792.0 C514.2,799.3 518.0,806.7 523.0,815.0 C528.0,823.3 534.3,834.0 540.0,842.0 C545.7,850.0 550.0,855.2 557.0,863.0 C564.0,870.8 574.8,880.8 582.0,889.0 C589.2,897.2 593.7,905.8 600.0,912.1 C606.3,918.4 613.3,922.3 620.0,926.8 C626.7,931.3 633.3,935.3 640.0,939.1 C646.7,943.0 653.3,946.3 660.0,949.6 C666.7,953.0 673.3,956.3 680.0,959.2 C686.7,962.1 693.3,964.5 700.0,967.0 C706.7,969.6 713.3,972.1 720.0,974.4 C726.7,976.8 733.3,979.0 740.0,981.1 C746.7,983.2 753.3,984.9 760.0,987.0 C766.7,989.1 773.3,991.6 780.0,993.8 C786.7,996.1 793.3,998.7 800.0,1000.7 C806.7,1002.7 813.3,1004.2 820.0,1005.9 C826.7,1007.6 833.3,1009.3 840.0,1011.0 C846.7,1012.6 853.3,1014.5 860.0,1016.0 C866.7,1017.6 873.3,1018.8 880.0,1020.1 C886.7,1021.4 893.3,1022.7 900.0,1024.0 C906.7,1025.3 913.3,1026.7 920.0,1028.0 C926.7,1029.2 933.3,1030.3 940.0,1031.5 C946.7,1032.7 953.3,1033.8 960.0,1035.0 C966.7,1036.2 973.3,1037.4 980.0,1038.6 C986.7,1039.8 993.3,1041.2 1000.0,1042.2 C1006.7,1043.2 1013.3,1043.9 1020.0,1044.7 C1026.7,1045.6 1033.3,1046.4 1040.0,1047.2 C1046.7,1048.0 1053.3,1048.8 1060.0,1049.7 C1066.7,1050.6 1073.3,1051.6 1080.0,1052.6 C1086.7,1053.6 1093.3,1054.7 1100.0,1055.7 C1106.7,1056.6 1113.3,1057.6 1120.0,1058.4 C1126.7,1059.3 1133.3,1060.2 1140.0,1060.9 C1146.7,1061.5 1153.3,1062.0 1160.0,1062.4 C1166.7,1062.8 1173.3,1063.2 1180.0,1063.4 C1186.7,1063.7 1193.3,1063.9 1200.0,1063.9 C1206.7,1063.9 1213.3,1063.1 1220.0,1063.6 C1226.7,1064.0 1235.7,1066.3 1240.0,1066.8 C1244.3,1067.3 1244.0,1066.6 1246.0,1066.6 C1248.0,1066.7 1250.0,1066.9 1252.0,1067.0 C1254.0,1067.1 1256.0,1067.1 1258.0,1067.4 C1260.0,1067.6 1262.0,1068.0 1264.0,1068.5 C1266.0,1068.9 1268.0,1069.6 1270.0,1070.2 C1272.0,1070.7 1274.0,1071.2 1276.0,1072.0 C1278.0,1072.7 1280.0,1074.0 1282.0,1075.0 C1284.0,1076.0 1286.0,1076.8 1288.0,1078.0 C1290.0,1079.1 1292.0,1080.3 1294.0,1081.6 C1296.0,1082.9 1298.0,1084.4 1300.0,1085.8 C1302.0,1087.2 1304.0,1088.3 1306.0,1090.1 C1308.0,1092.0 1310.0,1094.6 1312.0,1096.8 C1314.0,1099.1 1316.0,1101.3 1318.0,1103.7 C1320.0,1106.0 1322.0,1108.6 1324.0,1111.2 C1326.0,1113.7 1328.0,1116.5 1330.0,1119.2 C1332.0,1121.8 1334.7,1125.4 1336.0,1127.1 C1337.3,1128.8 1337.3,1128.7 1338.0,1129.5 C1338.7,1130.3 1339.3,1131.1 1340.0,1131.9 C1340.7,1132.7 1341.3,1133.5 1342.0,1134.3 C1342.7,1135.1 1343.3,1136.0 1344.0,1136.8 C1344.7,1137.6 1345.3,1138.4 1346.0,1139.2 C1346.7,1140.0 1347.3,1140.8 1348.0,1141.4 C1348.7,1142.0 1349.3,1142.4 1350.0,1142.8 C1350.7,1143.3 1351.3,1143.8 1352.0,1144.3 C1352.7,1144.7 1353.3,1145.1 1354.0,1145.7 C1354.7,1146.2 1355.3,1146.5 1356.0,1147.4 C1356.7,1148.2 1357.3,1149.5 1358.0,1150.6 C1358.7,1151.6 1359.3,1152.7 1360.0,1153.8 C1360.7,1154.8 1361.3,1155.9 1362.0,1157.0 C1362.7,1158.0 1363.3,1159.9 1364.0,1160.2 C1364.7,1160.4 1365.3,1159.1 1366.0,1158.5 C1366.7,1157.9 1367.3,1157.2 1368.0,1156.6 C1368.7,1156.0 1369.3,1155.4 1370.0,1154.7 C1370.7,1154.1 1371.3,1153.6 1372.0,1152.6 C1372.7,1151.5 1373.3,1150.0 1374.0,1148.7 C1374.7,1147.4 1375.3,1146.1 1376.0,1144.8 C1376.7,1143.4 1377.3,1142.3 1378.0,1140.4 C1378.7,1138.5 1379.3,1135.7 1380.0,1133.3 C1380.7,1131.0 1381.3,1128.7 1382.0,1126.2 C1382.7,1123.8 1383.3,1121.7 1384.0,1118.5 C1384.7,1115.2 1385.3,1110.5 1386.0,1106.5 C1386.7,1102.6 1387.3,1098.6 1388.0,1094.6 C1388.7,1090.7 1389.3,1086.5 1390.0,1082.7 C1390.7,1079.0 1391.3,1075.4 1392.0,1072.0 C1392.7,1068.5 1393.3,1065.5 1394.0,1062.3 C1394.7,1059.1 1395.3,1055.9 1396.0,1052.6 C1396.7,1049.4 1397.3,1046.2 1398.0,1043.0 C1398.7,1039.8 1399.3,1036.6 1400.0,1033.3 C1400.7,1030.1 1401.3,1027.1 1402.0,1023.4 C1402.7,1019.7 1403.3,1015.3 1404.0,1011.3 C1404.7,1007.3 1405.3,1003.2 1406.0,999.2 C1406.7,995.1 1407.3,991.1 1408.0,987.1 C1408.7,983.0 1409.3,979.0 1410.0,975.0 C1410.7,970.9 1411.3,966.6 1412.0,962.9 C1412.7,959.1 1413.3,955.8 1414.0,952.7 C1414.7,949.7 1415.3,947.1 1416.0,944.3 C1416.7,941.5 1417.3,938.7 1418.0,935.8 C1418.7,933.0 1418.7,933.0 1420.0,927.4 C1421.3,921.8 1424.0,908.6 1426.0,902.2 C1428.0,895.8 1430.0,893.1 1432.0,889.0 C1434.0,884.8 1436.0,881.1 1438.0,877.4 C1440.0,873.7 1442.0,869.0 1444.0,866.7 C1446.0,864.3 1448.0,864.4 1450.0,863.3 C1452.0,862.1 1454.0,861.0 1456.0,859.9 C1458.0,858.7 1460.0,857.2 1462.0,856.5 C1464.0,855.7 1466.0,855.7 1468.0,855.5 C1470.0,855.2 1468.7,854.2 1474.0,854.8 C1479.3,855.5 1490.7,857.0 1500.0,859.6 C1509.3,862.2 1520.0,866.5 1530.0,870.4 C1540.0,874.4 1550.0,879.2 1560.0,883.4 C1570.0,887.7 1580.0,892.2 1590.0,896.1 C1600.0,899.9 1610.0,903.0 1620.0,906.3 C1630.0,909.7 1640.0,913.1 1650.0,916.1 C1660.0,919.1 1670.0,921.9 1680.0,924.4 C1690.0,926.9 1700.0,929.2 1710.0,931.0 C1720.0,932.8 1730.0,934.4 1740.0,935.1 C1750.0,935.9 1760.0,936.2 1770.0,935.6 C1780.0,935.1 1790.0,933.9 1800.0,931.8 C1810.0,929.7 1820.0,927.3 1830.0,923.0 C1840.0,918.7 1850.0,912.8 1860.0,906.3 C1870.0,899.7 1880.0,895.1 1890.0,883.8 C1900.0,872.5 1913.0,849.9 1920.0,838.6 C1927.0,827.3 1928.0,825.4 1932.0,816.2 C1936.0,807.0 1940.0,807.0 1944.0,783.6 C1948.0,760.2 1953.8,699.9 1955.9,676.0 C1958.0,652.1 1956.5,646.0 1956.6,640.0" stroke="#c0c0c0" stroke-width="3.6"/>
<path d="M458.3,341.5 462.3,370.6 468.3,393.3 470.3,404.0 480.3,472.7 488.3,517.9 490.3,528.9 500.3,574.4 510.3,612.0 520.3,643.6 530.3,670.8 540.3,694.6 550.3,715.6 560.3,734.6 570.3,752.0 580.3,768.1 600.3,797.4 620.3,823.1 640.3,845.4 658.3,862.8 680.3,882.0 700.3,897.4 720.3,911.4 740.3,924.0 758.3,934.6 780.3,946.3 797.8,954.5 805.8,957.4 814.8,959.3 818.3,959.3 821.3,958.8 824.3,957.6 826.8,956.0 829.3,953.5 831.3,950.7 835.3,942.6 839.3,930.0 842.3,916.5 845.3,898.6 850.3,856.8 853.8,817.0 857.3,768.3 865.3,632.4 873.8,542.6 880.3,480.8 886.3,432.2 892.3,392.9 897.3,366.9 902.8,344.5 908.8,326.2 911.8,319.1 915.3,312.1 918.8,306.4 922.3,301.7 925.8,297.9 930.3,294.3 934.8,292.0 939.3,290.6 944.3,290.0 949.8,290.3 955.8,291.5 963.8,294.1 971.8,297.5 981.8,302.5 1009.8,318.7 1021.8,326.4 1033.8,334.9 1049.8,347.5 1063.8,359.5 1083.8,379.0 1113.8,409.5 1137.8,432.7 1161.8,455.0 1183.8,473.9 1195.8,483.1 1227.8,506.3 1253.8,525.7 1289.8,549.3 1327.8,572.2 1383.8,603.4 1399.8,611.9 1433.8,628.7 1481.8,650.7 1507.8,661.6 1533.8,670.9 1553.8,678.5 1727.8,746.9 1769.8,764.6 1803.8,782.1 1821.8,792.2 1831.8,798.6 1849.8,811.6 1859.8,817.8 1863.8,820.7 1871.8,828.5 1877.8,836.5 1881.8,844.4 1887.8,861.2 1893.8,882.5 1901.8,917.6 1913.8,961.3 1925.8,1011.2 1943.8,1076.6 1949.8,1104.8 1951.8,1109.0 1953.8,1115.0" stroke="#a0b6cd" stroke-width="3.6"/>
<path d="M458.3,341.5 462.3,370.6 468.3,393.3 470.3,404.0 480.3,472.8 488.3,518.2 490.3,529.2 500.3,574.9 510.3,612.7 520.3,644.6 530.3,672.1 540.3,696.2 550.3,717.5 560.3,736.8 570.3,754.3 580.3,770.6 590.3,785.8 600.3,800.0 620.3,825.8 640.3,848.0 658.3,865.5 680.3,884.7 700.3,900.0 720.3,914.0 740.3,926.7 758.3,937.2 780.3,949.1 800.3,959.0 829.8,972.1 842.3,976.5 850.3,978.0 853.8,978.0 857.3,977.2 860.3,975.7 862.8,973.4 865.3,970.0 867.3,966.3 871.3,955.2 874.3,942.4 877.3,924.5 880.3,900.0 882.8,873.7 885.8,834.0 888.8,785.4 896.3,638.6 903.3,551.6 908.3,495.4 913.8,442.5 918.8,403.6 923.3,375.9 927.8,354.1 932.8,335.9 935.3,328.8 938.3,321.8 941.3,316.3 944.3,311.9 947.3,308.6 950.8,305.8 954.3,303.9 958.3,302.7 962.3,302.4 966.8,302.7 972.8,304.0 980.8,306.9 996.8,314.8 1008.8,321.7 1020.8,329.2 1040.8,343.4 1058.8,357.7 1068.8,366.7 1146.8,444.4 1168.8,465.1 1188.8,482.7 1254.8,530.9 1290.8,554.2 1328.8,576.9 1396.8,614.3 1434.8,632.9 1482.8,654.7 1508.8,665.5 1550.8,680.7 1724.8,748.6 1768.8,766.9 1800.8,783.0 1820.8,794.1 1830.8,800.3 1850.8,814.6 1862.8,822.2 1870.8,829.9 1876.8,837.5 1880.8,845.0 1882.8,849.7 1888.8,867.4 1892.8,881.3 1902.8,923.6 1914.8,967.1 1926.8,1016.5 1942.8,1073.5 1948.8,1101.3 1950.8,1107.1 1952.8,1111.4 1954.8,1119.6" stroke="#a0b6cd" stroke-width="3.6"/>
<path d="M458.3,341.5 462.3,370.6 468.3,393.3 470.3,404.1 480.3,472.9 488.3,518.2 490.3,529.2 500.3,575.0 510.3,612.9 520.3,644.8 530.3,672.4 540.3,696.5 550.3,717.9 560.3,737.2 570.3,754.8 580.3,771.1 600.3,800.6 620.3,826.4 640.3,848.6 658.3,866.1 680.3,885.3 700.3,900.6 720.3,914.6 740.3,927.3 758.3,937.8 780.3,949.7 800.3,959.6 830.3,973.1 860.3,985.3 875.3,989.9 879.3,990.5 882.8,990.6 885.8,989.9 888.8,988.4 891.3,986.1 893.3,983.4 895.3,979.5 897.3,974.2 900.8,960.3 903.8,941.7 906.3,919.9 908.8,891.0 911.3,854.0 913.8,808.3 920.8,648.9 926.8,561.3 931.3,502.1 935.8,451.6 940.3,411.2 943.8,386.4 947.8,364.3 951.8,348.1 956.3,335.1 958.8,330.0 961.3,325.9 963.8,322.8 966.8,320.1 969.8,318.4 973.3,317.2 977.3,316.9 981.3,317.3 987.3,318.9 995.3,322.2 1003.3,326.3 1015.3,333.2 1027.3,340.8 1037.3,347.7 1059.3,364.4 1069.3,373.2 1083.3,386.4 1117.3,420.2 1159.3,460.8 1181.3,481.0 1193.3,491.0 1255.3,535.7 1289.3,557.4 1327.3,580.1 1383.3,611.2 1399.3,619.5 1435.3,636.9 1483.3,658.4 1507.3,668.4 1551.3,684.4 1725.3,751.7 1769.3,769.8 1799.3,784.7 1821.3,796.8 1831.3,803.0 1849.3,815.8 1859.3,822.0 1863.3,824.8 1871.3,832.8 1875.3,837.8 1877.3,841.0 1883.3,853.9 1887.3,865.5 1893.3,886.1 1901.3,920.2 1913.3,963.1 1927.3,1019.8 1943.3,1076.2 1949.3,1103.3 1953.3,1113.0 1955.3,1122.1" stroke="#a0b6cd" stroke-width="3.6"/>
<path d="M458.3,341.5 462.3,370.6 468.3,393.4 470.3,404.1 480.3,473.2 488.3,518.9 490.3,530.0 500.3,576.3 510.3,615.0 520.3,647.7 530.3,676.0 540.3,700.9 550.3,723.1 560.3,743.1 570.3,761.3 580.3,778.1 590.3,793.6 600.3,808.0 620.3,833.7 640.3,856.0 660.3,875.3 680.3,892.6 700.3,908.0 720.3,922.0 740.3,934.6 760.3,946.3 780.3,957.0 800.3,966.9 830.3,980.5 860.3,992.8 878.3,999.4 888.8,1002.7 896.8,1004.0 899.8,1003.7 902.8,1002.6 905.3,1000.7 907.3,998.3 909.3,994.8 911.3,989.8 914.8,976.3 917.8,957.6 920.3,935.2 922.8,904.8 925.3,865.1 927.8,815.8 933.8,666.7 943.8,517.1 948.3,463.4 952.3,425.3 955.8,399.0 959.3,378.7 963.3,361.4 967.3,349.4 971.8,340.4 974.3,337.0 977.3,334.2 980.3,332.4 983.3,331.3 986.8,330.9 990.8,331.2 994.8,332.2 1000.8,334.4 1008.8,338.1 1018.8,343.5 1036.8,354.4 1058.8,369.5 1070.8,378.9 1086.8,392.6 1168.8,467.1 1184.8,481.4 1194.8,489.6 1228.8,514.1 1246.8,527.5 1256.8,534.5 1292.8,557.5 1334.8,582.3 1382.8,608.9 1398.8,617.3 1434.8,634.8 1482.8,656.5 1508.8,667.2 1550.8,682.5 1724.8,750.1 1768.8,768.2 1802.8,785.3 1820.8,795.3 1830.8,801.5 1850.8,815.7 1862.8,823.3 1870.8,831.0 1876.8,838.8 1880.8,846.5 1882.8,851.2 1888.8,868.9 1892.8,882.8 1902.8,924.8 1914.8,968.0 1926.8,1017.2 1942.8,1073.9 1948.8,1101.4 1950.8,1107.1 1952.8,1111.4 1954.8,1119.7" stroke="#a0b6cd" stroke-width="3.6"/>
<path d="M458.3,341.5 462.3,370.6 468.3,393.4 470.3,404.1 480.3,473.3 488.3,519.1 490.3,530.2 500.3,576.7 510.3,615.5 520.3,648.4 530.3,676.9 540.3,702.0 550.3,724.4 560.3,744.5 570.3,762.9 580.3,779.8 590.3,795.3 600.3,809.8 620.3,835.5 640.3,857.8 660.3,877.1 680.3,894.4 700.3,909.8 720.3,923.8 740.3,936.4 760.3,948.1 780.3,958.8 800.3,968.7 830.3,982.3 860.3,994.6 885.3,1003.7 895.8,1007.0 899.8,1007.8 903.8,1008.0 906.8,1007.5 909.3,1006.4 911.8,1004.4 913.8,1001.9 915.8,998.3 917.8,993.4 921.3,980.3 924.3,962.5 926.8,941.5 929.3,913.3 931.8,876.9 934.3,831.7 941.3,671.6 947.3,583.5 951.8,524.1 956.3,473.7 960.8,433.6 964.3,409.1 968.3,387.6 972.3,371.9 976.8,359.5 979.3,354.6 981.8,350.8 984.3,347.9 987.3,345.5 990.3,344.0 993.3,343.1 996.8,342.8 1000.8,343.2 1004.8,344.2 1010.8,346.3 1024.8,353.1 1046.8,365.5 1066.8,378.0 1090.8,395.4 1126.8,423.6 1194.8,479.6 1230.8,506.1 1250.8,521.4 1286.8,545.3 1314.8,562.5 1334.8,574.2 1382.8,600.9 1400.8,610.4 1432.8,626.3 1470.8,644.0 1500.8,657.1 1560.8,679.5 1728.8,745.9 1766.8,761.9 1798.8,778.1 1820.8,790.4 1832.8,798.1 1850.8,811.2 1862.8,818.8 1872.8,828.4 1876.8,833.6 1878.8,836.9 1882.8,845.3 1888.8,863.0 1892.8,877.1 1902.8,920.3 1914.8,964.4 1926.8,1014.4 1942.8,1072.3 1948.8,1101.1 1950.8,1107.1 1952.8,1111.4 1954.8,1119.5" stroke="#a0b6cd" stroke-width="3.6"/>
<path d="M458.3,341.5 462.3,370.6 468.3,393.4 470.3,404.2 480.3,473.4 488.3,519.3 490.3,530.4 500.3,577.0 510.3,616.0 520.3,649.0 530.3,677.7 540.3,703.1 550.3,725.6 560.3,746.0 570.3,764.5 580.3,781.5 590.3,797.1 600.3,811.5 620.3,837.3 640.3,859.5 660.3,878.9 680.3,896.2 700.3,911.5 720.3,925.5 740.3,938.2 760.3,949.9 780.3,960.6 800.3,970.5 830.3,984.1 860.3,996.4 886.3,1005.9 900.3,1010.6 904.8,1011.6 908.8,1012.0 911.8,1011.7 914.8,1010.7 917.3,1009.0 919.8,1006.2 921.8,1003.0 923.8,998.5 927.3,986.6 930.8,967.6 933.8,943.3 936.3,915.9 938.8,880.8 941.8,828.2 948.3,684.7 954.8,594.5 959.3,538.2 964.3,485.2 968.8,447.2 972.3,423.6 976.3,402.6 980.8,385.2 985.3,373.1 987.8,368.2 990.3,364.4 992.8,361.4 995.8,358.9 998.8,357.1 1002.3,356.0 1006.3,355.6 1010.3,355.9 1016.3,357.4 1022.3,359.6 1038.3,367.7 1060.3,380.8 1082.3,396.1 1100.3,410.0 1130.3,434.9 1196.3,493.1 1214.3,507.0 1250.3,533.4 1286.3,556.6 1318.3,575.8 1334.3,585.1 1382.3,611.6 1400.3,621.0 1432.3,636.5 1468.3,652.8 1498.3,665.6 1510.3,670.4 1552.3,685.6 1724.3,752.0 1768.3,770.1 1800.3,785.9 1822.3,798.0 1832.3,804.2 1850.3,817.0 1862.3,824.6 1870.3,832.3 1876.3,840.0 1882.3,852.1 1888.3,869.4 1894.3,890.8 1902.3,924.6 1914.3,967.5 1926.3,1016.4 1944.3,1080.3 1948.3,1099.4 1950.3,1106.1 1952.3,1110.1 1954.3,1117.3" stroke="#a0b6cd" stroke-width="3.6"/>
<path d="M458.3,341.5 462.3,370.6 468.3,393.4 470.3,404.2 480.3,473.4 488.3,519.4 490.3,530.5 500.3,577.2 510.3,616.2 520.3,649.4 530.3,678.2 540.3,703.7 550.3,726.3 560.3,746.8 570.3,765.4 580.3,782.5 590.3,798.2 600.3,812.7 620.3,838.5 640.3,860.9 660.3,880.3 680.3,897.7 700.3,913.1 720.3,927.2 740.3,940.0 760.3,951.7 780.3,962.5 800.3,972.4 830.3,986.1 860.3,998.4 896.8,1011.9 905.3,1014.6 910.3,1015.7 913.8,1016.0 917.3,1015.7 920.3,1014.7 922.8,1013.1 925.3,1010.5 927.8,1006.6 929.8,1002.1 933.3,990.9 936.8,973.0 939.8,950.5 942.3,925.3 945.3,886.1 948.3,836.6 955.3,692.2 962.3,601.1 967.3,542.8 971.8,498.2 976.8,458.2 980.8,433.1 984.8,413.4 989.3,396.8 994.3,384.0 999.3,375.6 1002.3,372.2 1005.3,369.8 1008.3,368.1 1012.3,366.9 1015.8,366.6 1020.3,366.9 1024.3,367.7 1030.3,369.7 1042.3,375.2 1062.3,386.3 1084.3,400.0 1104.3,413.8 1132.3,434.4 1160.3,456.3 1196.3,485.9 1252.3,528.1 1288.3,551.5 1322.3,572.0 1388.3,608.9 1434.3,631.8 1472.3,649.2 1500.3,661.2 1556.3,682.0 1728.3,749.3 1766.3,765.1 1776.3,769.8 1798.3,781.0 1820.3,793.2 1830.3,799.3 1850.3,813.7 1862.3,821.2 1872.3,830.9 1876.3,836.1 1878.3,839.4 1882.3,847.7 1888.3,865.0 1894.3,886.7 1902.3,921.2 1914.3,964.7 1926.3,1014.2 1942.3,1071.4 1944.3,1079.2 1948.3,1099.1 1950.3,1106.1 1952.3,1110.1 1954.3,1117.3" stroke="#a0b6cd" stroke-width="3.6"/>
<path d="M458.3,341.5 462.3,370.6 468.3,393.4 470.3,404.2 480.3,473.4 488.3,519.4 490.3,530.5 500.3,577.2 510.3,616.3 520.3,649.5 530.3,678.3 540.3,703.8 550.3,726.5 560.3,747.0 570.3,765.6 580.3,782.7 590.3,798.4 600.3,813.0 620.3,838.9 640.3,861.3 660.3,880.8 680.3,898.3 700.3,913.8 720.3,928.0 740.3,940.8 760.3,952.7 780.3,963.5 800.3,973.5 830.3,987.2 860.3,999.6 898.3,1013.7 909.8,1017.5 914.3,1018.5 918.8,1019.0 922.3,1018.7 925.3,1017.8 928.3,1015.9 930.8,1013.3 933.3,1009.6 935.3,1005.4 938.8,994.7 942.3,978.0 945.3,957.3 948.3,929.1 951.3,892.1 954.3,845.8 961.8,700.5 968.8,614.5 974.3,553.8 979.3,507.3 984.3,469.7 988.3,445.8 992.8,424.7 997.8,407.3 1002.8,395.1 1005.3,390.6 1008.3,386.3 1011.3,383.0 1014.8,380.4 1018.3,378.6 1021.8,377.7 1025.8,377.4 1030.3,377.7 1034.3,378.6 1040.3,380.5 1052.3,385.9 1078.3,400.2 1104.3,415.8 1128.3,431.1 1152.3,447.2 1226.3,500.5 1250.3,518.8 1286.3,542.9 1330.3,569.6 1392.3,604.0 1436.3,626.1 1474.3,643.8 1500.3,655.1 1512.3,659.9 1540.3,669.9 1564.3,679.2 1730.3,745.0 1766.3,760.3 1776.3,765.1 1798.3,776.6 1820.3,788.9 1832.3,796.6 1850.3,809.8 1862.3,817.3 1872.3,826.6 1878.3,834.7 1882.3,842.6 1888.3,859.9 1894.3,881.9 1902.3,917.3 1914.3,961.4 1926.3,1011.7 1942.3,1069.9 1944.3,1078.1 1948.3,1098.8 1950.3,1106.0 1952.3,1110.1 1954.3,1117.2" stroke="#a0b6cd" stroke-width="3.6"/>
<path d="M458.3,341.5 462.3,370.6 468.3,393.4 470.3,404.2 480.3,473.4 488.3,519.4 490.3,530.5 500.3,577.2 510.3,616.3 520.3,649.5 530.3,678.3 540.3,703.8 550.3,726.5 560.3,747.0 570.3,765.7 580.3,782.8 590.3,798.6 600.3,813.1 620.3,839.0 640.3,861.5 660.3,881.1 680.3,898.6 700.3,914.2 720.3,928.4 740.3,941.3 760.3,953.2 780.3,964.0 800.3,974.0 830.3,987.8 860.3,1000.2 901.3,1015.5 912.8,1019.3 918.3,1020.6 922.3,1021.0 925.8,1020.8 929.3,1019.8 932.3,1018.2 934.8,1016.0 937.3,1012.7 939.8,1007.9 943.8,996.1 947.3,979.9 950.3,960.1 953.3,933.7 956.3,899.5 959.8,849.2 967.8,705.0 975.3,618.9 980.8,562.4 986.3,514.6 991.3,479.5 995.8,454.4 1000.8,432.8 1005.8,416.7 1011.3,404.0 1014.3,398.9 1017.3,394.9 1020.3,391.9 1023.8,389.3 1027.3,387.6 1031.3,386.5 1035.3,386.2 1039.8,386.5 1049.8,389.1 1061.8,394.2 1079.8,404.0 1099.8,416.3 1123.8,432.6 1147.8,450.2 1169.8,467.4 1199.8,491.9 1245.8,527.6 1255.8,534.8 1287.8,555.4 1321.8,575.8 1387.8,612.6 1405.8,621.8 1433.8,635.3 1469.8,651.7 1499.8,664.5 1559.8,686.8 1725.8,751.2 1765.8,767.6 1777.8,773.2 1795.8,782.3 1819.8,795.3 1831.8,802.7 1849.8,815.6 1861.8,823.1 1865.8,826.6 1871.8,832.8 1875.8,837.9 1877.8,841.2 1881.8,849.5 1887.8,866.3 1893.8,887.4 1901.8,921.6 1913.8,964.6 1927.8,1021.4 1943.8,1077.9 1949.8,1104.8 1951.8,1109.0 1953.8,1115.0" stroke="#a0b6cd" stroke-width="3.6"/>
<path d="M458.3,341.5 462.3,370.6 468.3,393.4 470.3,404.2 480.3,473.4 488.3,519.4 490.3,530.6 500.3,577.3 510.3,616.4 520.3,649.7 530.3,678.6 540.3,704.2 550.3,727.0 560.3,747.6 570.3,766.4 580.3,783.7 590.3,799.6 600.3,814.3 620.3,840.6 640.3,863.4 660.3,883.3 680.3,901.2 700.3,917.1 720.3,931.7 740.3,944.9 760.3,957.1 780.3,968.3 800.3,978.5 830.3,992.6 860.3,1005.2 928.3,1031.0 934.3,1034.7 945.3,1043.1 949.3,1045.3 952.3,1045.9 954.8,1045.2 957.3,1042.9 959.3,1039.5 961.3,1034.2 962.8,1028.6 966.3,1009.5 969.3,984.1 971.8,955.4 976.3,884.5 982.3,760.4 990.8,611.4 996.3,536.8 998.8,510.4 1001.8,484.5 1005.3,461.3 1008.8,444.3 1012.8,430.6 1016.8,421.3 1019.3,417.1 1021.8,413.8 1024.8,410.9 1027.8,408.7 1031.8,406.6 1035.8,405.4 1039.8,405.0 1043.8,405.3 1051.8,407.5 1059.8,411.1 1071.8,417.9 1085.8,427.2 1109.8,444.5 1135.8,463.9 1199.8,513.5 1215.8,525.0 1251.8,549.7 1327.8,594.6 1389.8,628.6 1411.8,639.4 1435.8,650.4 1469.8,665.2 1501.8,678.3 1545.8,694.3 1601.8,715.5 1653.8,734.8 1729.8,763.5 1767.8,778.7 1799.8,793.9 1819.8,804.4 1831.8,811.6 1849.8,824.0 1861.8,831.5 1869.8,839.4 1875.8,847.4 1881.8,860.4 1887.8,877.4 1893.8,897.8 1901.8,930.0 1913.8,971.6 1927.8,1026.6 1943.8,1080.6 1949.8,1105.0 1951.8,1109.0 1953.8,1115.1" stroke="#a0b6cd" stroke-width="3.6"/>
<path d="M458.3,341.5 462.3,370.6 468.3,393.4 470.3,404.2 480.3,473.4 490.3,530.6 500.3,577.3 510.3,616.5 520.3,649.8 530.3,678.8 540.3,704.4 550.3,727.3 560.3,748.0 568.3,763.0 580.3,784.1 590.3,800.1 600.3,814.9 618.3,838.7 640.3,864.3 660.3,884.4 680.3,902.5 700.3,918.6 720.3,933.3 740.3,946.7 760.3,959.1 780.3,970.4 798.3,979.7 830.3,995.0 856.3,1005.9 928.3,1033.7 934.3,1037.0 948.3,1046.1 952.8,1048.3 956.8,1049.0 959.8,1047.9 962.3,1045.3 964.8,1040.6 968.3,1029.0 971.8,1008.9 974.8,982.3 977.3,952.1 981.3,886.7 987.3,756.5 994.8,617.5 1000.3,538.5 1002.8,511.0 1005.8,484.5 1008.8,464.3 1012.3,446.9 1015.8,434.8 1019.8,425.4 1022.3,421.4 1024.8,418.2 1027.3,415.9 1030.3,413.8 1034.3,411.9 1038.3,410.7 1042.3,410.1 1046.3,410.1 1054.3,411.8 1064.3,416.0 1076.3,422.8 1090.3,432.1 1112.3,447.8 1138.3,467.2 1202.3,517.2 1220.3,530.2 1252.3,552.3 1278.3,567.9 1328.3,597.0 1388.3,629.9 1406.3,638.7 1432.3,650.7 1470.3,667.2 1500.3,679.5 1544.3,695.4 1606.3,718.9 1658.3,738.0 1726.3,763.6 1768.3,780.3 1798.3,794.4 1822.3,807.1 1834.3,814.4 1850.3,825.4 1862.3,833.1 1870.3,841.2 1876.3,849.6 1882.3,863.1 1886.3,874.2 1892.3,893.6 1902.3,932.9 1914.3,974.4 1928.3,1029.1 1944.3,1082.8 1948.3,1100.1 1950.3,1106.1 1952.3,1110.0 1954.3,1117.4" stroke="#a0b6cd" stroke-width="3.6"/>
<path d="M458.3,341.5 462.3,370.6 468.3,393.4 470.3,404.2 480.3,473.4 490.3,530.6 500.3,577.4 510.3,616.5 520.3,649.9 530.3,678.9 540.3,704.6 550.3,727.5 560.3,748.3 568.3,763.4 580.3,784.6 590.3,800.6 600.3,815.5 618.3,839.5 640.3,865.2 660.3,885.5 680.3,903.7 700.3,920.0 720.3,935.0 740.3,948.5 760.3,961.0 780.3,972.4 800.3,983.0 830.3,997.3 858.3,1009.2 930.3,1037.0 950.8,1048.4 956.8,1051.1 959.8,1051.9 961.8,1052.0 964.3,1051.5 966.3,1050.6 968.3,1049.1 970.3,1046.9 973.8,1040.6 977.8,1028.4 981.8,1008.6 985.3,983.2 988.8,948.3 993.8,880.8 1001.3,748.7 1009.3,627.4 1015.3,552.2 1020.8,500.8 1023.8,479.8 1027.3,460.6 1030.8,446.3 1034.3,436.0 1038.3,428.0 1040.8,424.6 1042.8,422.6 1045.3,420.9 1047.8,419.8 1050.8,419.2 1053.8,419.3 1059.8,420.7 1065.8,423.4 1073.8,428.0 1085.8,435.9 1107.8,451.4 1141.8,476.3 1197.8,518.3 1249.8,552.6 1287.8,575.4 1327.8,598.7 1389.8,632.6 1409.8,642.3 1433.8,653.3 1469.8,668.8 1501.8,681.8 1541.8,696.2 1605.8,720.3 1651.8,737.1 1727.8,765.6 1769.8,782.3 1799.8,796.4 1821.8,808.0 1833.8,815.2 1849.8,826.2 1861.8,833.8 1865.8,837.4 1869.8,841.8 1875.8,850.0 1881.8,863.3 1887.8,880.3 1893.8,900.5 1901.8,932.3 1913.8,973.5 1927.8,1028.0 1943.8,1081.4 1949.8,1105.0 1951.8,1109.0 1953.8,1115.1" stroke="#a0b6cd" stroke-width="3.6"/>
<path d="M458.3,341.5 462.3,370.6 468.3,393.4 470.3,404.2 480.3,473.4 490.3,530.6 500.3,577.4 510.3,616.6 520.3,650.0 530.3,679.1 540.3,704.8 550.3,727.8 560.3,748.6 568.3,763.8 580.3,785.0 590.3,801.1 600.3,816.1 618.3,840.2 640.3,866.1 660.3,886.6 680.3,905.0 700.3,921.5 720.3,936.6 740.3,950.3 760.3,963.0 780.3,974.5 798.3,984.1 830.3,999.7 858.3,1011.6 930.3,1039.5 940.3,1045.3 953.8,1053.8 959.8,1056.9 964.8,1058.0 967.3,1057.8 969.3,1057.0 972.8,1054.2 976.3,1048.4 978.3,1043.4 980.3,1036.7 984.3,1016.9 987.8,990.8 990.8,960.4 995.8,891.3 1002.8,763.5 1010.8,637.6 1016.8,560.9 1022.3,509.1 1025.3,488.0 1028.8,468.7 1032.3,454.1 1036.3,442.1 1040.3,434.2 1042.8,430.9 1045.3,428.4 1047.8,426.8 1050.3,425.8 1053.3,425.3 1056.8,425.4 1062.8,426.9 1070.8,430.5 1078.8,435.2 1090.8,443.2 1110.8,457.5 1140.8,479.9 1200.8,526.5 1216.8,537.8 1248.8,559.1 1258.8,565.2 1330.8,606.5 1388.8,638.1 1408.8,647.7 1434.8,659.4 1468.8,673.8 1502.8,687.4 1542.8,701.7 1608.8,726.3 1662.8,745.7 1726.8,769.6 1770.8,786.8 1798.8,799.7 1822.8,812.2 1832.8,818.1 1862.8,838.0 1866.8,841.9 1870.8,846.5 1874.8,852.1 1876.8,855.7 1882.8,870.2 1886.8,881.6 1892.8,901.0 1900.8,932.0 1912.8,972.7 1928.8,1033.6 1934.8,1054.1 1942.8,1079.2 1948.8,1102.2 1952.8,1111.4 1954.8,1120.0" stroke="#a0b6cd" stroke-width="3.6"/>
<path d="M458.3,341.5 462.3,370.6 468.3,393.4 470.3,404.2 480.3,473.5 490.3,530.6 500.3,577.5 510.3,616.7 520.3,650.1 530.3,679.2 540.3,705.0 550.3,728.0 560.3,748.9 568.3,764.1 580.3,785.5 590.3,801.6 600.3,816.6 618.3,840.9 640.3,867.1 660.3,887.7 680.3,906.3 700.3,923.0 720.3,938.2 740.3,952.1 760.3,964.9 780.3,976.6 800.3,987.4 830.3,1002.0 858.3,1014.1 930.3,1042.0 940.3,1047.7 957.8,1059.0 963.8,1061.9 969.3,1062.9 971.8,1062.6 973.8,1061.8 975.8,1060.4 977.8,1058.3 981.3,1052.4 983.8,1046.0 985.8,1039.3 989.8,1020.3 993.8,992.2 997.3,958.6 1002.8,887.4 1010.8,754.2 1018.3,647.6 1024.8,570.3 1027.8,541.4 1030.8,517.0 1033.8,496.9 1037.3,478.2 1040.8,464.1 1044.8,452.4 1049.3,443.7 1053.8,438.6 1056.3,436.9 1059.3,435.6 1062.3,435.2 1065.3,435.3 1071.3,436.7 1077.3,439.3 1087.3,445.2 1097.3,452.1 1115.3,465.7 1143.3,487.9 1197.3,532.5 1215.3,545.3 1245.3,565.1 1259.3,573.8 1327.3,612.7 1387.3,645.4 1403.3,653.1 1433.3,666.3 1469.3,681.2 1501.3,693.7 1605.3,731.6 1663.3,752.0 1729.3,776.2 1769.3,791.5 1797.3,804.1 1821.3,816.2 1833.3,823.1 1861.3,841.3 1865.3,844.9 1869.3,849.4 1875.3,858.0 1879.3,866.9 1887.3,889.1 1893.3,908.4 1901.3,938.4 1913.3,978.2 1929.3,1038.1 1935.3,1058.1 1943.3,1082.3 1949.3,1103.9 1953.3,1113.1 1955.3,1122.8" stroke="#a0b6cd" stroke-width="3.6"/>
<path d="M458.3,341.5 462.3,370.6 468.3,393.4 470.3,404.2 480.3,473.5 490.3,530.6 500.3,577.5 510.3,616.8 520.3,650.2 530.3,679.4 538.3,700.1 550.3,728.2 560.3,749.2 568.3,764.5 580.3,785.9 590.3,802.1 600.3,817.2 618.3,841.6 640.3,868.0 660.3,888.8 680.3,907.6 700.3,924.4 720.3,939.8 740.3,953.9 760.3,966.9 780.3,978.7 800.3,989.6 830.3,1004.4 858.3,1016.5 930.3,1044.5 942.3,1051.6 959.8,1063.7 967.3,1067.6 972.8,1069.0 975.3,1068.7 977.3,1068.0 980.8,1065.2 984.3,1059.7 986.8,1053.6 988.8,1046.9 992.8,1027.8 996.3,1003.2 999.8,969.7 1005.3,896.9 1012.8,767.9 1021.3,643.0 1027.3,570.7 1032.8,521.4 1035.8,501.1 1039.3,482.4 1042.8,468.5 1046.3,458.4 1050.3,450.4 1054.8,445.0 1057.3,443.2 1059.8,442.1 1062.8,441.5 1066.3,441.5 1072.3,443.0 1080.3,446.8 1090.3,452.9 1104.3,462.8 1124.3,478.3 1146.3,496.3 1170.3,516.6 1200.3,542.9 1220.3,558.0 1244.3,574.4 1262.3,585.4 1334.3,625.8 1388.3,654.9 1408.3,664.2 1432.3,674.4 1468.3,688.9 1500.3,701.2 1604.3,738.6 1664.3,759.1 1726.3,781.6 1772.3,798.9 1800.3,811.2 1822.3,822.2 1836.3,830.3 1862.3,847.2 1866.3,851.1 1870.3,856.0 1876.3,865.6 1886.3,892.7 1892.3,911.4 1902.3,946.9 1914.3,985.9 1924.3,1023.6 1930.3,1044.5 1936.3,1063.8 1944.3,1087.1 1948.3,1101.2 1952.3,1110.0 1954.3,1117.6" stroke="#a0b6cd" stroke-width="3.6"/>
<path d="M458.3,341.5 462.3,370.6 468.3,393.4 470.3,404.2 480.3,473.5 490.3,530.7 500.3,577.5 510.3,616.8 520.3,650.3 530.3,679.5 540.3,705.4 550.3,728.5 560.3,749.5 568.3,764.8 580.3,786.3 590.3,802.7 600.3,817.8 618.3,842.4 640.3,868.9 660.3,889.9 680.3,908.8 700.3,925.9 720.3,941.5 740.3,955.7 760.3,968.8 780.3,980.8 800.3,991.8 830.3,1006.7 858.3,1019.0 930.3,1047.0 942.3,1054.2 962.8,1069.0 971.3,1073.6 976.3,1074.9 978.3,1074.8 980.8,1074.1 982.8,1072.8 984.8,1070.9 988.3,1065.5 990.8,1059.5 992.8,1053.1 995.3,1042.8 997.3,1032.4 1001.3,1004.7 1004.8,971.9 1010.3,903.2 1018.3,774.5 1026.8,658.6 1033.3,584.9 1039.3,533.8 1042.8,511.4 1046.3,493.8 1049.8,480.3 1053.8,469.1 1058.3,460.7 1062.8,455.6 1065.3,453.9 1068.3,452.7 1071.3,452.2 1074.3,452.2 1081.3,454.0 1087.3,456.8 1097.3,462.9 1107.3,470.1 1125.3,484.2 1151.3,505.7 1173.3,524.3 1195.3,543.6 1207.3,552.6 1223.3,563.5 1245.3,577.6 1259.3,585.9 1337.3,629.5 1387.3,656.4 1405.3,664.8 1431.3,675.9 1469.3,691.1 1505.3,704.8 1603.3,739.9 1665.3,761.0 1727.3,783.4 1771.3,799.8 1799.3,812.0 1823.3,823.9 1835.3,830.8 1861.3,847.5 1863.3,849.1 1867.3,853.4 1871.3,858.6 1875.3,864.9 1877.3,869.2 1885.3,891.2 1893.3,916.1 1901.3,944.7 1913.3,983.4 1925.3,1028.0 1931.3,1048.5 1935.3,1061.3 1943.3,1084.5 1949.3,1104.1 1953.3,1113.1 1955.3,1123.0" stroke="#a0b6cd" stroke-width="3.6"/>
<path d="M458.3,341.5 462.3,370.6 468.3,393.4 470.3,404.2 480.3,473.5 490.3,530.7 500.3,577.6 510.3,616.9 520.3,650.4 530.3,679.6 540.3,705.5 550.3,728.7 560.3,749.8 568.3,765.2 580.3,786.8 590.3,803.2 600.3,818.4 618.3,843.1 640.3,869.8 660.3,891.0 680.3,910.1 700.3,927.3 720.3,943.1 740.3,957.5 760.3,970.8 780.3,982.9 800.3,994.0 830.3,1009.1 858.3,1021.4 930.3,1049.4 942.3,1056.8 966.3,1075.2 971.8,1078.8 975.3,1080.5 980.3,1081.8 982.8,1081.6 984.8,1080.9 988.3,1078.2 991.8,1073.0 994.3,1067.2 996.8,1059.3 1000.8,1041.3 1004.8,1014.8 1008.3,983.7 1014.3,911.8 1022.8,779.8 1031.3,667.6 1037.8,595.7 1040.8,568.4 1044.3,541.6 1047.8,519.8 1051.3,502.5 1054.8,489.2 1058.8,478.0 1063.3,469.5 1067.8,464.4 1070.3,462.7 1072.8,461.6 1075.8,461.0 1078.8,461.0 1084.8,462.6 1091.8,466.2 1099.8,471.7 1109.8,479.9 1123.8,492.7 1143.8,512.1 1171.8,539.9 1195.8,564.4 1205.8,572.8 1217.8,581.8 1235.8,593.5 1253.8,604.0 1301.8,629.1 1339.8,650.2 1383.8,673.6 1399.8,681.2 1427.8,692.6 1461.8,705.4 1509.8,722.8 1601.8,755.0 1645.8,768.8 1665.8,775.5 1777.8,815.1 1801.8,825.1 1825.8,836.7 1841.8,845.8 1861.8,858.6 1865.8,862.5 1869.8,867.7 1875.8,877.9 1877.8,883.1 1891.8,924.7 1901.8,957.0 1911.8,987.6 1925.8,1036.7 1933.8,1062.5 1947.8,1100.8 1949.8,1105.5 1951.8,1108.9 1953.8,1115.2" stroke="#a0b6cd" stroke-width="3.6"/>
<path d="M458.3,341.5 462.3,370.6 468.3,393.4 470.3,404.2 480.3,473.5 490.3,530.7 500.3,577.6 510.3,617.0 520.3,650.5 530.3,679.8 540.3,705.7 550.3,729.0 560.3,750.1 570.3,769.4 580.3,787.2 590.3,803.7 600.3,819.0 618.3,843.8 640.3,870.7 660.3,892.1 680.3,911.4 700.3,928.8 720.3,944.7 740.3,959.3 760.3,972.7 780.3,985.0 800.3,996.2 830.3,1011.4 858.3,1023.8 930.3,1051.8 942.3,1059.4 950.3,1065.5 967.8,1080.0 973.8,1084.3 978.8,1087.2 984.3,1088.7 986.8,1088.6 988.8,1088.0 992.8,1085.3 996.8,1079.9 999.3,1074.7 1001.8,1067.8 1004.3,1058.8 1006.8,1047.7 1011.3,1021.5 1015.3,990.5 1021.8,924.3 1031.8,793.6 1041.3,687.6 1048.8,615.8 1055.8,563.2 1059.8,539.8 1062.8,525.9 1066.8,511.1 1070.8,500.0 1075.3,491.2 1079.8,485.6 1082.8,483.4 1085.3,482.3 1087.8,481.7 1090.8,481.7 1094.8,482.7 1099.3,484.8 1103.3,487.4 1109.3,492.2 1119.3,501.7 1145.3,528.7 1161.3,544.5 1189.3,570.3 1195.3,575.4 1201.3,579.7 1219.3,591.1 1251.3,609.3 1299.3,634.0 1345.3,659.2 1387.3,681.4 1401.3,687.7 1429.3,698.9 1509.3,727.8 1601.3,759.8 1647.3,773.9 1671.3,781.9 1779.3,819.7 1803.3,829.6 1825.3,840.0 1843.3,850.1 1861.3,861.6 1865.3,865.3 1869.3,870.5 1875.3,880.7 1877.3,885.7 1913.3,995.2 1925.3,1037.2 1933.3,1062.9 1937.3,1074.2 1947.3,1099.8 1949.3,1104.6 1951.3,1108.0 1953.3,1113.1 1955.3,1123.6" stroke="#a0b6cd" stroke-width="3.6"/>
<path d="M458.3,341.5 462.3,370.6 468.3,393.4 470.3,404.2 480.3,473.5 490.3,530.7 500.3,577.6 510.3,617.0 518.3,644.0 530.3,679.9 540.3,705.9 550.3,729.2 560.3,750.4 570.3,769.7 580.3,787.6 590.3,804.2 600.3,819.6 620.3,847.3 640.3,871.6 660.3,893.2 680.3,912.7 700.3,930.2 720.3,946.3 730.3,953.7 740.3,961.1 758.3,973.3 780.3,987.1 800.3,998.5 828.3,1012.8 860.3,1027.1 924.3,1051.7 930.3,1054.4 938.3,1059.7 946.3,1066.3 954.3,1074.1 974.3,1095.0 979.3,1099.4 983.8,1102.3 986.3,1103.3 988.8,1103.7 990.8,1103.4 992.8,1102.6 994.8,1101.0 996.8,1098.7 1000.3,1092.1 1003.8,1081.7 1006.8,1069.2 1009.8,1053.0 1012.3,1036.1 1016.3,1002.5 1020.8,954.8 1025.3,897.5 1030.8,819.1 1042.8,680.2 1050.3,609.5 1053.8,582.6 1057.8,556.7 1060.8,540.6 1064.3,525.4 1067.8,513.3 1071.8,502.8 1075.8,495.3 1080.3,489.8 1082.8,487.9 1085.3,486.6 1090.3,485.7 1095.3,486.6 1101.3,489.3 1106.3,492.6 1114.3,499.3 1130.3,515.3 1190.3,579.4 1198.3,586.7 1206.3,592.6 1222.3,602.4 1252.3,618.9 1300.3,642.8 1344.3,666.8 1386.3,688.9 1404.3,696.9 1434.3,708.4 1564.3,753.8 1604.3,767.3 1642.3,778.5 1664.3,785.6 1782.3,826.1 1804.3,835.0 1826.3,845.3 1844.3,855.2 1862.3,866.9 1864.3,868.8 1868.3,873.7 1872.3,880.1 1876.3,888.1 1882.3,906.9 1912.3,995.9 1924.3,1036.8 1932.3,1062.4 1936.3,1073.8 1940.3,1083.8 1948.3,1102.8 1952.3,1110.0 1954.3,1117.9" stroke="#a0b6cd" stroke-width="3.6"/>
<path d="M458.3,341.5 462.3,370.6 468.3,393.4 470.3,404.2 480.3,473.5 490.3,530.7 500.3,577.7 510.3,617.1 520.3,650.7 530.3,680.1 540.3,706.1 550.3,729.5 560.3,750.7 570.3,770.1 580.3,788.1 590.3,804.7 600.3,820.2 618.3,845.3 640.3,872.6 660.3,894.3 680.3,913.9 700.3,931.7 720.3,948.0 740.3,962.9 760.3,976.6 780.3,989.2 804.3,1002.8 830.3,1016.1 860.3,1029.5 930.3,1056.8 944.3,1065.3 974.8,1088.8 980.8,1092.8 985.3,1095.2 990.8,1096.7 993.3,1096.7 995.8,1096.0 999.8,1093.4 1003.3,1088.6 1005.8,1083.7 1008.3,1077.2 1010.8,1069.0 1013.3,1058.6 1017.8,1034.0 1022.3,1000.4 1025.8,967.8 1029.3,929.5 1038.8,805.1 1047.8,704.9 1055.3,632.7 1058.8,604.6 1062.3,580.5 1065.8,560.4 1069.3,543.9 1073.3,529.0 1077.3,517.9 1081.8,509.0 1086.3,503.4 1088.8,501.4 1091.3,500.1 1094.3,499.3 1097.3,499.3 1101.8,500.4 1107.3,503.1 1113.3,507.3 1119.3,512.5 1135.3,528.8 1189.3,587.0 1197.3,594.5 1205.3,600.5 1219.3,609.0 1237.3,618.8 1259.3,630.2 1301.3,650.5 1345.3,674.5 1385.3,695.4 1403.3,703.4 1431.3,713.9 1561.3,758.8 1603.3,772.8 1643.3,784.3 1665.3,791.2 1783.3,831.1 1803.3,839.0 1827.3,850.0 1845.3,859.8 1861.3,870.1 1865.3,873.8 1869.3,879.3 1875.3,890.1 1877.3,895.5 1883.3,914.9 1913.3,1002.3 1923.3,1036.2 1933.3,1067.6 1937.3,1078.4 1941.3,1087.8 1947.3,1100.9 1951.3,1108.0 1953.3,1113.1 1955.3,1123.9" stroke="#a0b6cd" stroke-width="3.6"/>
<path d="M458.3,341.5 462.3,370.6 468.3,393.4 470.3,404.2 480.3,473.5 490.3,530.8 500.3,577.7 510.3,617.1 520.3,650.8 530.3,680.2 540.3,706.3 550.3,729.7 560.3,751.0 570.3,770.5 580.3,788.5 590.3,805.2 600.3,820.8 620.3,848.8 640.3,873.5 660.3,895.4 680.3,915.2 700.3,933.1 710.3,941.4 720.3,949.6 740.3,964.6 760.3,978.5 780.3,991.2 800.3,1002.9 818.3,1012.4 830.3,1018.5 860.3,1032.0 930.3,1059.2 944.3,1066.8 974.8,1085.4 981.3,1088.9 986.8,1091.2 990.3,1092.3 993.8,1092.8 997.3,1092.7 999.8,1092.0 1002.3,1090.5 1004.8,1088.2 1009.3,1081.8 1012.3,1075.4 1014.8,1068.5 1019.8,1049.1 1024.3,1024.0 1028.8,990.3 1035.3,925.5 1045.3,797.5 1053.8,705.0 1060.8,639.2 1064.3,611.8 1067.8,588.3 1071.3,568.7 1074.8,552.7 1078.8,538.3 1082.8,527.6 1087.3,519.2 1091.8,513.9 1094.3,512.0 1096.8,510.9 1099.3,510.3 1102.3,510.2 1106.8,511.2 1112.3,513.8 1118.3,517.8 1126.3,524.6 1136.3,534.1 1152.3,550.5 1194.3,595.2 1202.3,602.2 1212.3,609.3 1222.3,615.5 1234.3,621.9 1258.3,634.2 1300.3,654.1 1346.3,679.1 1386.3,699.9 1402.3,706.9 1432.3,718.1 1572.3,765.9 1606.3,777.0 1644.3,787.7 1662.3,793.3 1784.3,834.1 1804.3,842.0 1828.3,852.9 1844.3,861.5 1860.3,871.7 1864.3,875.0 1868.3,880.1 1872.3,886.8 1876.3,895.1 1884.3,920.8 1914.3,1007.2 1924.3,1041.0 1934.3,1071.7 1938.3,1081.9 1942.3,1090.8 1948.3,1103.3 1952.3,1110.0 1954.3,1118.0" stroke="#a0b6cd" stroke-width="3.6"/>
<path d="M458.6,410.0 C458.6,405.0 458.6,391.4 458.5,380.0 C458.4,368.6 458.0,345.2 458.3,341.5 C458.6,337.8 459.8,352.9 460.5,358.0 C461.2,363.1 461.7,367.8 462.5,372.0 C463.3,376.2 464.4,379.0 465.5,383.0 C466.6,387.0 467.8,390.2 469.0,396.0 C470.2,401.8 471.5,411.0 472.5,418.0 C473.5,425.0 473.8,429.1 475.0,438.0 C476.2,446.9 477.5,456.5 480.0,471.7 C482.5,486.9 486.7,511.7 490.0,529.1 C493.3,546.5 496.7,561.6 500.0,576.0 C503.3,590.4 506.7,603.1 510.0,615.2 C513.3,627.3 516.7,638.1 520.0,648.5 C523.3,658.9 526.7,668.3 530.0,677.4 C533.3,686.5 536.7,694.9 540.0,702.9 C543.3,710.9 546.7,718.4 550.0,725.6 C553.3,732.8 556.7,739.6 560.0,746.1 C563.3,752.6 566.7,758.8 570.0,764.7 C573.3,770.7 576.7,776.3 580.0,781.8 C583.3,787.3 586.7,792.5 590.0,797.5 C593.3,802.5 595.0,805.3 600.0,812.0 C605.0,818.7 613.3,829.8 620.0,837.8 C626.7,845.8 633.3,853.1 640.0,860.1 C646.7,867.1 653.3,873.4 660.0,879.5 C666.7,885.6 673.3,891.3 680.0,896.8 C686.7,902.2 693.3,907.3 700.0,912.2 C706.7,917.1 713.3,921.8 720.0,926.2 C726.7,930.7 733.3,934.8 740.0,938.9 C746.7,943.0 753.3,946.9 760.0,950.6 C766.7,954.3 773.3,957.9 780.0,961.3 C786.7,964.7 791.7,967.3 800.0,971.2 C808.3,975.1 820.0,980.5 830.0,984.8 C840.0,989.1 850.0,993.2 860.0,997.1 C870.0,1001.0 882.1,1005.2 890.0,1008.3 C897.9,1011.4 902.5,1012.8 907.5,1015.5 C912.5,1018.2 916.5,1022.2 919.9,1024.3 C923.3,1026.4 924.9,1028.8 927.8,1028.2 C930.6,1027.7 934.3,1025.4 937.0,1021.0 C939.7,1016.6 941.9,1007.6 943.8,1001.6 C945.7,995.6 946.7,996.1 948.3,985.0 C949.9,973.9 951.6,953.3 953.5,935.0 C955.4,916.7 956.8,900.8 959.5,875.0 C962.2,849.2 966.8,812.5 970.0,780.0 C973.2,747.5 976.0,714.2 979.0,680.0 C982.0,645.8 984.8,608.3 988.0,575.0 C991.2,541.7 995.2,502.2 998.3,480.0 C1001.4,457.8 1003.0,453.7 1006.6,442.0 C1010.2,430.3 1014.9,418.1 1019.9,410.0 C1024.9,401.9 1030.4,397.0 1036.5,393.5 C1042.6,390.0 1050.9,389.3 1056.4,389.0 C1061.9,388.7 1064.2,388.9 1069.7,391.5 C1075.2,394.1 1080.8,397.9 1089.7,404.8 C1098.6,411.7 1111.8,423.9 1122.9,433.0 C1134.0,442.1 1145.0,450.7 1156.1,459.6 C1167.2,468.5 1177.0,476.8 1189.3,486.2 C1201.6,495.6 1219.5,508.2 1230.0,516.0 C1240.5,523.8 1242.3,526.2 1252.0,533.0 C1261.7,539.8 1276.0,549.3 1288.0,557.0 C1300.0,564.7 1311.9,572.0 1323.9,579.0 C1335.9,586.0 1347.8,592.3 1359.8,599.0 C1371.8,605.7 1383.8,612.7 1395.8,619.0 C1407.8,625.3 1419.8,631.2 1431.8,637.0 C1443.8,642.8 1455.8,648.5 1467.8,654.0 C1479.8,659.5 1492.1,665.3 1503.8,670.0 C1515.5,674.7 1526.0,677.5 1538.0,682.0 C1550.0,686.5 1563.3,692.0 1576.0,697.0 C1588.7,702.0 1601.5,707.2 1614.2,712.3 C1626.9,717.4 1639.5,722.4 1652.2,727.5 C1664.9,732.6 1677.6,737.7 1690.3,742.7 C1703.0,747.7 1715.6,752.4 1728.3,757.5 C1741.0,762.6 1753.7,767.6 1766.4,773.5 C1779.1,779.4 1793.6,787.1 1804.4,793.0 C1815.2,798.9 1823.4,804.0 1831.0,809.0 C1838.6,814.0 1844.3,818.1 1850.0,823.0 C1855.7,827.9 1860.8,833.3 1865.3,838.5 C1869.8,843.7 1872.5,847.4 1876.7,854.0 C1881.0,860.6 1886.0,868.0 1890.8,878.0 C1895.5,888.0 1901.2,901.9 1905.2,913.9 C1909.2,925.9 1911.9,937.9 1915.0,949.9 C1918.1,961.9 1921.6,975.9 1924.0,985.8 C1926.4,995.7 1927.2,1000.4 1929.4,1009.4 C1931.7,1018.4 1934.5,1028.8 1937.5,1039.8 C1940.5,1050.8 1944.9,1066.7 1947.4,1075.7 C1950.0,1084.7 1951.6,1086.5 1952.8,1093.7 C1954.0,1100.9 1954.1,1111.3 1954.5,1119.0 C1954.9,1126.7 1955.0,1153.7 1955.3,1140.0 C1955.6,1126.3 1956.0,1054.2 1956.2,1037.0" stroke="#ff0000" stroke-width="7.0"/>
<path d="M459.0,1185.0 C459.1,1174.2 459.2,1150.8 459.3,1120.0 C459.4,1089.2 459.6,1040.0 459.8,1000.0 C460.0,960.0 460.3,913.3 460.5,880.0 C460.7,846.7 460.9,819.5 461.2,800.0 C461.5,780.5 461.9,772.8 462.5,763.0 C463.1,753.2 463.6,746.6 464.5,741.0 C465.4,735.4 466.7,731.9 468.0,729.5 C469.3,727.1 471.0,726.1 472.4,726.5 C473.8,726.9 475.1,729.2 476.5,732.0 C477.9,734.8 478.9,738.8 480.7,743.0 C482.5,747.2 484.7,751.3 487.5,757.0 C490.3,762.7 493.7,770.2 497.3,777.0 C500.9,783.8 505.0,790.5 509.0,798.0 C513.0,805.5 516.6,813.5 521.5,822.0 C526.4,830.5 532.6,841.0 538.1,849.0 C543.6,857.0 547.8,862.1 554.7,870.0 C561.6,877.9 570.0,887.5 579.7,896.5 C589.4,905.5 601.8,915.8 612.9,924.0 C624.0,932.2 635.0,939.1 646.1,945.5 C657.2,951.9 668.2,957.3 679.3,962.5 C690.4,967.7 702.4,972.5 712.5,976.5 C722.6,980.5 732.1,983.8 740.0,986.5 C747.9,989.2 749.9,989.6 760.0,993.0 C770.1,996.4 783.9,1002.1 800.9,1007.0 C817.9,1011.9 841.5,1017.9 861.8,1022.5 C882.1,1027.1 906.3,1031.4 922.7,1034.5 C939.1,1037.6 946.8,1038.7 960.0,1041.0 C973.2,1043.3 984.7,1046.0 1001.8,1048.5 C1018.9,1051.0 1049.7,1054.3 1062.7,1056.0 C1075.7,1057.7 1072.1,1057.4 1080.0,1058.6 C1087.9,1059.8 1100.0,1061.8 1110.0,1063.2 C1120.0,1064.6 1130.2,1065.9 1140.2,1066.9 C1150.2,1067.9 1160.2,1068.7 1170.2,1069.2 C1180.2,1069.7 1191.5,1069.9 1200.3,1069.9 C1209.1,1070.0 1215.4,1069.7 1222.9,1069.5 C1230.4,1069.3 1239.1,1068.6 1245.4,1068.6 C1251.7,1068.6 1255.5,1068.7 1260.5,1069.5 C1265.5,1070.3 1270.5,1071.8 1275.5,1073.7 C1280.5,1075.7 1285.5,1078.2 1290.5,1081.2 C1295.5,1084.2 1300.6,1087.2 1305.6,1091.7 C1310.6,1096.2 1315.6,1102.3 1320.6,1108.3 C1325.6,1114.3 1331.1,1122.2 1335.6,1127.8 C1340.1,1133.4 1344.3,1138.7 1347.7,1142.0 C1351.1,1145.3 1353.4,1147.4 1355.9,1147.5 C1358.4,1147.6 1360.6,1145.1 1362.7,1142.5 C1364.8,1139.9 1366.7,1137.1 1368.7,1132.0 C1370.7,1126.9 1372.5,1122.3 1374.7,1112.0 C1376.9,1101.7 1379.0,1085.3 1382.0,1070.0 C1385.0,1054.7 1389.1,1039.2 1392.8,1020.0 C1396.5,1000.8 1399.7,975.2 1403.9,955.0 C1408.1,934.8 1412.7,913.7 1417.8,899.0 C1422.9,884.3 1428.4,874.2 1434.4,867.0 C1440.4,859.8 1447.3,858.2 1453.8,856.0 C1460.2,853.8 1465.4,853.6 1473.1,854.0 C1480.8,854.4 1489.2,856.2 1500.0,858.5 C1510.8,860.8 1528.0,864.7 1538.0,867.5 C1548.0,870.3 1548.2,870.9 1560.3,875.1 C1572.4,879.3 1593.7,887.1 1610.4,892.7 C1627.1,898.4 1643.8,904.4 1660.5,909.0 C1677.2,913.6 1693.9,917.6 1710.6,920.3 C1727.3,923.0 1744.1,925.5 1760.8,925.3 C1777.5,925.1 1799.4,921.4 1810.9,919.0 C1822.4,916.6 1822.2,914.7 1830.0,910.8 C1837.8,906.9 1849.4,900.3 1857.7,895.6 C1866.0,890.9 1874.5,885.8 1880.0,882.5 C1885.5,879.2 1886.9,879.8 1890.8,876.0 C1894.7,872.2 1899.7,864.6 1903.4,860.0 C1907.1,855.4 1907.7,856.9 1913.0,848.5 C1918.3,840.1 1929.6,821.8 1935.1,809.8 C1940.6,797.8 1943.4,785.2 1946.2,776.6 C1949.0,768.0 1950.4,767.1 1951.7,758.0 C1953.0,748.9 1953.6,735.7 1954.3,722.0 C1955.0,708.3 1955.5,693.8 1955.9,676.0 C1956.3,658.2 1956.5,625.2 1956.6,615.0" stroke="#ff0000" stroke-width="7.0"/>
</g>
<rect x="1390" y="85" width="500" height="70" fill="#fff"/>
<text x="1401" y="143.3" font-size="71.2">Nominal</text>
<rect x="1703" y="116" width="165" height="7" fill="#f00"/>
<g fill="#000">
<rect x="754" y="50" width="4" height="35"/>
<rect x="754" y="1150" width="4" height="35"/>
<rect x="1055" y="50" width="4" height="35"/>
<rect x="1055" y="1150" width="4" height="35"/>
<rect x="1356" y="50" width="4" height="35"/>
<rect x="1356" y="1150" width="4" height="35"/>
<rect x="1657" y="50" width="4" height="35"/>
<rect x="1657" y="1150" width="4" height="35"/>
<rect x="458" y="1146" width="34" height="4"/>
<rect x="1922" y="1146" width="35" height="4"/>
<rect x="458" y="1008" width="34" height="4"/>
<rect x="1922" y="1008" width="35" height="4"/>
<rect x="458" y="870" width="34" height="4"/>
<rect x="1922" y="870" width="35" height="4"/>
<rect x="458" y="733" width="34" height="4"/>
<rect x="1922" y="733" width="35" height="4"/>
<rect x="458" y="595" width="34" height="4"/>
<rect x="1922" y="595" width="35" height="4"/>
<rect x="458" y="458" width="34" height="4"/>
<rect x="1922" y="458" width="35" height="4"/>
<rect x="458" y="320" width="34" height="4"/>
<rect x="1922" y="320" width="35" height="4"/>
<rect x="458" y="183" width="34" height="4"/>
<rect x="1922" y="183" width="35" height="4"/>
<rect x="451" y="43" width="7" height="1149"/>
<rect x="1957" y="43" width="6" height="1149"/>
<rect x="451" y="43" width="1512" height="7"/>
<rect x="451" y="1185" width="1512" height="7"/>
</g>
<g font-size="82.5" text-anchor="end">
<text x="404" y="1174.5">0</text>
<text x="404" y="1036.5">0.001</text>
<text x="404" y="898.5">0.002</text>
<text x="404" y="761.5">0.003</text>
<text x="404" y="623.5">0.004</text>
<text x="404" y="486.5">0.005</text>
<text x="404" y="348.5">0.006</text>
<text x="404" y="211.5">0.007</text>
<text x="404" y="73.5">0.008</text>
</g>
<g font-size="82.5" text-anchor="middle">
<text x="466.0" y="1299">0</text>
<text x="767.0" y="1299">0.2</text>
<text x="1068.0" y="1299">0.4</text>
<text x="1369.0" y="1299">0.6</text>
<text x="1670.0" y="1299">0.8</text>
<text x="1971.0" y="1299">1</text>
</g>
<text x="17.9" y="636.7" font-size="82.5">C</text>
<text x="79" y="661.9" font-size="66">f</text>
<text x="1206.4" y="1421.8" font-size="82.5" text-anchor="middle">x/c</text>
<text x="1358.3" y="551.5" font-size="70.7">Suction Side</text>
<text x="1436.5" y="1005" font-size="70.7">Pressure Side</text>
</svg>
</body></html>
